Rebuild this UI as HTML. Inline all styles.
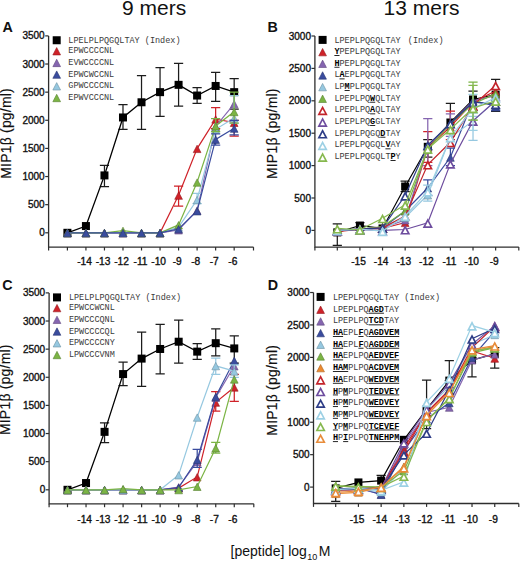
<!DOCTYPE html><html><head><meta charset="utf-8"><style>html,body{margin:0;padding:0;background:#fff;overflow:hidden}svg{display:block}</style></head><body><svg width="520" height="561" viewBox="0 0 520 561">
<rect width="520" height="561" fill="#fff"/>
<text x="122.1" y="15.3" font-size="21" font-family='"Liberation Sans", sans-serif' fill="#111">9 mers</text>
<text x="383.6" y="15.3" font-size="21" font-family='"Liberation Sans", sans-serif' fill="#111">13 mers</text>
<text x="2.4" y="31.7" font-size="14.3" font-weight="bold" font-family='"Liberation Sans", sans-serif' fill="#111">A</text>
<text x="267.6" y="31.5" font-size="14.3" font-weight="bold" font-family='"Liberation Sans", sans-serif' fill="#111">B</text>
<text x="2.2" y="290.0" font-size="14.3" font-weight="bold" font-family='"Liberation Sans", sans-serif' fill="#111">C</text>
<text x="267.8" y="290.0" font-size="14.3" font-weight="bold" font-family='"Liberation Sans", sans-serif' fill="#111">D</text>
<text transform="translate(11.2 178.8) rotate(-90)" font-size="14" letter-spacing="0.2" font-family='"Liberation Sans", sans-serif' fill="#111" stroke="#111" stroke-width="0.15">MIP1&#946; (pg/ml)</text>
<text transform="translate(276.7 179.1) rotate(-90)" font-size="14" letter-spacing="0.2" font-family='"Liberation Sans", sans-serif' fill="#111" stroke="#111" stroke-width="0.15">MIP1&#946; (pg/ml)</text>
<text transform="translate(10.2 435.1) rotate(-90)" font-size="14" letter-spacing="0.2" font-family='"Liberation Sans", sans-serif' fill="#111" stroke="#111" stroke-width="0.15">MIP1&#946; (pg/ml)</text>
<text transform="translate(276.6 435.7) rotate(-90)" font-size="14" letter-spacing="0.2" font-family='"Liberation Sans", sans-serif' fill="#111" stroke="#111" stroke-width="0.15">MIP1&#946; (pg/ml)</text>
<text x="230.6" y="556.3" font-size="14" font-family='"Liberation Sans", sans-serif' fill="#111">[peptide] log</text>
<text x="307.2" y="560" font-size="9" font-family='"Liberation Sans", sans-serif' fill="#111">10</text>
<text x="318.7" y="556.3" font-size="14" font-family='"Liberation Sans", sans-serif' fill="#111">M</text>
<path d="M48.60 35.89V247.10H253.50" fill="none" stroke="#2e2e2e" stroke-width="1.3"/>
<path d="M45.20 232.80H48.60" stroke="#2e2e2e" stroke-width="1.2"/>
<text x="44.70" y="236.40" font-size="10" text-anchor="end" font-family='"Liberation Sans", sans-serif' fill="#111" stroke="#111" stroke-width="0.35">0</text>
<path d="M45.20 204.67H48.60" stroke="#2e2e2e" stroke-width="1.2"/>
<text x="44.70" y="208.27" font-size="10" text-anchor="end" font-family='"Liberation Sans", sans-serif' fill="#111" stroke="#111" stroke-width="0.35">500</text>
<path d="M45.20 176.54H48.60" stroke="#2e2e2e" stroke-width="1.2"/>
<text x="44.70" y="180.14" font-size="10" text-anchor="end" font-family='"Liberation Sans", sans-serif' fill="#111" stroke="#111" stroke-width="0.35">1000</text>
<path d="M45.20 148.41H48.60" stroke="#2e2e2e" stroke-width="1.2"/>
<text x="44.70" y="152.01" font-size="10" text-anchor="end" font-family='"Liberation Sans", sans-serif' fill="#111" stroke="#111" stroke-width="0.35">1500</text>
<path d="M45.20 120.28H48.60" stroke="#2e2e2e" stroke-width="1.2"/>
<text x="44.70" y="123.88" font-size="10" text-anchor="end" font-family='"Liberation Sans", sans-serif' fill="#111" stroke="#111" stroke-width="0.35">2000</text>
<path d="M45.20 92.15H48.60" stroke="#2e2e2e" stroke-width="1.2"/>
<text x="44.70" y="95.75" font-size="10" text-anchor="end" font-family='"Liberation Sans", sans-serif' fill="#111" stroke="#111" stroke-width="0.35">2500</text>
<path d="M45.20 64.02H48.60" stroke="#2e2e2e" stroke-width="1.2"/>
<text x="44.70" y="67.62" font-size="10" text-anchor="end" font-family='"Liberation Sans", sans-serif' fill="#111" stroke="#111" stroke-width="0.35">3000</text>
<path d="M45.20 35.89H48.60" stroke="#2e2e2e" stroke-width="1.2"/>
<text x="44.70" y="39.49" font-size="10" text-anchor="end" font-family='"Liberation Sans", sans-serif' fill="#111" stroke="#111" stroke-width="0.35">3500</text>
<path d="M48.60 247.10V250.50" stroke="#2e2e2e" stroke-width="1.2"/>
<path d="M67.40 247.10V250.50" stroke="#2e2e2e" stroke-width="1.2"/>
<path d="M85.93 247.10V250.50" stroke="#2e2e2e" stroke-width="1.2"/>
<path d="M104.46 247.10V250.50" stroke="#2e2e2e" stroke-width="1.2"/>
<path d="M122.99 247.10V250.50" stroke="#2e2e2e" stroke-width="1.2"/>
<path d="M141.52 247.10V250.50" stroke="#2e2e2e" stroke-width="1.2"/>
<path d="M160.05 247.10V250.50" stroke="#2e2e2e" stroke-width="1.2"/>
<path d="M178.58 247.10V250.50" stroke="#2e2e2e" stroke-width="1.2"/>
<path d="M197.11 247.10V250.50" stroke="#2e2e2e" stroke-width="1.2"/>
<path d="M215.64 247.10V250.50" stroke="#2e2e2e" stroke-width="1.2"/>
<path d="M234.17 247.10V250.50" stroke="#2e2e2e" stroke-width="1.2"/>
<path d="M253.50 247.10V250.50" stroke="#2e2e2e" stroke-width="1.2"/>
<text x="91.90" y="265.00" font-size="10.2" text-anchor="end" font-family='"Liberation Sans", sans-serif' fill="#111" stroke="#111" stroke-width="0.35">-14</text>
<text x="110.43" y="265.00" font-size="10.2" text-anchor="end" font-family='"Liberation Sans", sans-serif' fill="#111" stroke="#111" stroke-width="0.35">-13</text>
<text x="128.96" y="265.00" font-size="10.2" text-anchor="end" font-family='"Liberation Sans", sans-serif' fill="#111" stroke="#111" stroke-width="0.35">-12</text>
<text x="147.49" y="265.00" font-size="10.2" text-anchor="end" font-family='"Liberation Sans", sans-serif' fill="#111" stroke="#111" stroke-width="0.35">-11</text>
<text x="166.02" y="265.00" font-size="10.2" text-anchor="end" font-family='"Liberation Sans", sans-serif' fill="#111" stroke="#111" stroke-width="0.35">-10</text>
<text x="181.72" y="265.00" font-size="10.2" text-anchor="end" font-family='"Liberation Sans", sans-serif' fill="#111" stroke="#111" stroke-width="0.35">-9</text>
<text x="200.25" y="265.00" font-size="10.2" text-anchor="end" font-family='"Liberation Sans", sans-serif' fill="#111" stroke="#111" stroke-width="0.35">-8</text>
<text x="218.78" y="265.00" font-size="10.2" text-anchor="end" font-family='"Liberation Sans", sans-serif' fill="#111" stroke="#111" stroke-width="0.35">-7</text>
<text x="237.31" y="265.00" font-size="10.2" text-anchor="end" font-family='"Liberation Sans", sans-serif' fill="#111" stroke="#111" stroke-width="0.35">-6</text>
<path d="M104.46 165.29V186.67M99.86 165.29H109.06M99.86 186.67H109.06" stroke="#1c1c1c" stroke-width="1.25" fill="none"/>
<path d="M122.99 104.53V129.28M118.39 104.53H127.59M118.39 129.28H127.59" stroke="#1c1c1c" stroke-width="1.25" fill="none"/>
<path d="M141.52 75.61V129.28M136.92 75.61H146.12M136.92 129.28H146.12" stroke="#1c1c1c" stroke-width="1.25" fill="none"/>
<path d="M160.05 67.51V116.34M155.45 67.51H164.65M155.45 116.34H164.65" stroke="#1c1c1c" stroke-width="1.25" fill="none"/>
<path d="M178.58 63.46V106.22M173.98 63.46H183.18M173.98 106.22H183.18" stroke="#1c1c1c" stroke-width="1.25" fill="none"/>
<path d="M197.11 87.65V103.40M192.51 87.65H201.71M192.51 103.40H201.71" stroke="#1c1c1c" stroke-width="1.25" fill="none"/>
<path d="M215.64 72.46V101.43M211.04 72.46H220.24M211.04 101.43H220.24" stroke="#1c1c1c" stroke-width="1.25" fill="none"/>
<path d="M234.17 78.65V109.03M229.57 78.65H238.77M229.57 109.03H238.77" stroke="#1c1c1c" stroke-width="1.25" fill="none"/>
<path d="M67.40 232.80L85.93 226.05L104.46 175.41L122.99 117.47L141.52 102.28L160.05 92.15L178.58 84.84L197.11 95.53L215.64 85.96L234.17 92.15" fill="none" stroke="#000" stroke-width="1.3"/>
<rect x="63.40" y="228.80" width="8" height="8" fill="#000"/>
<rect x="81.93" y="222.05" width="8" height="8" fill="#000"/>
<rect x="100.46" y="171.41" width="8" height="8" fill="#000"/>
<rect x="118.99" y="113.47" width="8" height="8" fill="#000"/>
<rect x="137.52" y="98.28" width="8" height="8" fill="#000"/>
<rect x="156.05" y="88.15" width="8" height="8" fill="#000"/>
<rect x="174.58" y="80.84" width="8" height="8" fill="#000"/>
<rect x="193.11" y="91.53" width="8" height="8" fill="#000"/>
<rect x="211.64" y="81.96" width="8" height="8" fill="#000"/>
<rect x="230.17" y="88.15" width="8" height="8" fill="#000"/>
<path d="M178.58 186.10V206.02M173.98 186.10H183.18M173.98 206.02H183.18" stroke="#cf2229" stroke-width="1.25" fill="none"/>
<path d="M215.64 107.62V128.72M211.04 107.62H220.24M211.04 128.72H220.24" stroke="#cf2229" stroke-width="1.25" fill="none"/>
<path d="M234.17 120.28V136.15M229.57 120.28H238.77M229.57 136.15H238.77" stroke="#cf2229" stroke-width="1.25" fill="none"/>
<path d="M67.40 232.80L85.93 232.80L104.46 232.80L122.99 232.80L141.52 232.80L160.05 232.80L178.58 195.33L197.11 148.58L215.64 119.15L234.17 122.53" fill="none" stroke="#cf2229" stroke-width="1.2"/>
<path d="M67.40 229.40L71.25 236.80L63.55 236.80Z" fill="#cf2229" stroke="#95181d" stroke-width="0.6" stroke-linejoin="miter"/>
<path d="M85.93 229.40L89.78 236.80L82.08 236.80Z" fill="#cf2229" stroke="#95181d" stroke-width="0.6" stroke-linejoin="miter"/>
<path d="M104.46 229.40L108.31 236.80L100.61 236.80Z" fill="#cf2229" stroke="#95181d" stroke-width="0.6" stroke-linejoin="miter"/>
<path d="M122.99 229.40L126.84 236.80L119.14 236.80Z" fill="#cf2229" stroke="#95181d" stroke-width="0.6" stroke-linejoin="miter"/>
<path d="M141.52 229.40L145.37 236.80L137.67 236.80Z" fill="#cf2229" stroke="#95181d" stroke-width="0.6" stroke-linejoin="miter"/>
<path d="M160.05 229.40L163.90 236.80L156.20 236.80Z" fill="#cf2229" stroke="#95181d" stroke-width="0.6" stroke-linejoin="miter"/>
<path d="M178.58 191.93L182.43 199.33L174.73 199.33Z" fill="#cf2229" stroke="#95181d" stroke-width="0.6" stroke-linejoin="miter"/>
<path d="M197.11 145.18L200.96 152.58L193.26 152.58Z" fill="#cf2229" stroke="#95181d" stroke-width="0.6" stroke-linejoin="miter"/>
<path d="M215.64 115.75L219.49 123.15L211.79 123.15Z" fill="#cf2229" stroke="#95181d" stroke-width="0.6" stroke-linejoin="miter"/>
<path d="M234.17 119.13L238.02 126.53L230.32 126.53Z" fill="#cf2229" stroke="#95181d" stroke-width="0.6" stroke-linejoin="miter"/>
<path d="M67.40 232.80L85.93 232.80L104.46 232.80L122.99 232.80L141.52 232.80L160.05 232.80L178.58 229.99L197.11 210.30L215.64 126.47L234.17 103.80" fill="none" stroke="#8565b0" stroke-width="1.2"/>
<path d="M67.40 229.40L71.25 236.80L63.55 236.80Z" fill="#8565b0" stroke="#5f487e" stroke-width="0.6" stroke-linejoin="miter"/>
<path d="M85.93 229.40L89.78 236.80L82.08 236.80Z" fill="#8565b0" stroke="#5f487e" stroke-width="0.6" stroke-linejoin="miter"/>
<path d="M104.46 229.40L108.31 236.80L100.61 236.80Z" fill="#8565b0" stroke="#5f487e" stroke-width="0.6" stroke-linejoin="miter"/>
<path d="M122.99 229.40L126.84 236.80L119.14 236.80Z" fill="#8565b0" stroke="#5f487e" stroke-width="0.6" stroke-linejoin="miter"/>
<path d="M141.52 229.40L145.37 236.80L137.67 236.80Z" fill="#8565b0" stroke="#5f487e" stroke-width="0.6" stroke-linejoin="miter"/>
<path d="M160.05 229.40L163.90 236.80L156.20 236.80Z" fill="#8565b0" stroke="#5f487e" stroke-width="0.6" stroke-linejoin="miter"/>
<path d="M178.58 226.59L182.43 233.99L174.73 233.99Z" fill="#8565b0" stroke="#5f487e" stroke-width="0.6" stroke-linejoin="miter"/>
<path d="M197.11 206.90L200.96 214.30L193.26 214.30Z" fill="#8565b0" stroke="#5f487e" stroke-width="0.6" stroke-linejoin="miter"/>
<path d="M215.64 123.07L219.49 130.47L211.79 130.47Z" fill="#8565b0" stroke="#5f487e" stroke-width="0.6" stroke-linejoin="miter"/>
<path d="M234.17 100.40L238.02 107.80L230.32 107.80Z" fill="#8565b0" stroke="#5f487e" stroke-width="0.6" stroke-linejoin="miter"/>
<path d="M197.11 193.42V203.54M192.51 193.42H201.71M192.51 203.54H201.71" stroke="#96c8e0" stroke-width="1.25" fill="none"/>
<path d="M234.17 95.53V123.09M229.57 95.53H238.77M229.57 123.09H238.77" stroke="#96c8e0" stroke-width="1.25" fill="none"/>
<path d="M67.40 232.80L85.93 232.80L104.46 232.80L122.99 232.80L141.52 232.80L160.05 232.80L178.58 227.17L197.11 199.72L215.64 129.28L234.17 118.03" fill="none" stroke="#96c8e0" stroke-width="1.2"/>
<path d="M67.40 229.40L71.25 236.80L63.55 236.80Z" fill="#96c8e0" stroke="#6c90a1" stroke-width="0.6" stroke-linejoin="miter"/>
<path d="M85.93 229.40L89.78 236.80L82.08 236.80Z" fill="#96c8e0" stroke="#6c90a1" stroke-width="0.6" stroke-linejoin="miter"/>
<path d="M104.46 229.40L108.31 236.80L100.61 236.80Z" fill="#96c8e0" stroke="#6c90a1" stroke-width="0.6" stroke-linejoin="miter"/>
<path d="M122.99 229.40L126.84 236.80L119.14 236.80Z" fill="#96c8e0" stroke="#6c90a1" stroke-width="0.6" stroke-linejoin="miter"/>
<path d="M141.52 229.40L145.37 236.80L137.67 236.80Z" fill="#96c8e0" stroke="#6c90a1" stroke-width="0.6" stroke-linejoin="miter"/>
<path d="M160.05 229.40L163.90 236.80L156.20 236.80Z" fill="#96c8e0" stroke="#6c90a1" stroke-width="0.6" stroke-linejoin="miter"/>
<path d="M178.58 223.77L182.43 231.17L174.73 231.17Z" fill="#96c8e0" stroke="#6c90a1" stroke-width="0.6" stroke-linejoin="miter"/>
<path d="M197.11 196.32L200.96 203.72L193.26 203.72Z" fill="#96c8e0" stroke="#6c90a1" stroke-width="0.6" stroke-linejoin="miter"/>
<path d="M215.64 125.88L219.49 133.28L211.79 133.28Z" fill="#96c8e0" stroke="#6c90a1" stroke-width="0.6" stroke-linejoin="miter"/>
<path d="M234.17 114.63L238.02 122.03L230.32 122.03Z" fill="#96c8e0" stroke="#6c90a1" stroke-width="0.6" stroke-linejoin="miter"/>
<path d="M215.64 118.59V131.53M211.04 118.59H220.24M211.04 131.53H220.24" stroke="#7bb444" stroke-width="1.25" fill="none"/>
<path d="M234.17 92.15V123.09M229.57 92.15H238.77M229.57 123.09H238.77" stroke="#7bb444" stroke-width="1.25" fill="none"/>
<path d="M67.40 232.80L85.93 232.80L104.46 232.80L122.99 230.55L141.52 232.80L160.05 232.80L178.58 224.92L197.11 182.28L215.64 125.91L234.17 111.73" fill="none" stroke="#7bb444" stroke-width="1.2"/>
<path d="M67.40 229.40L71.25 236.80L63.55 236.80Z" fill="#7bb444" stroke="#588130" stroke-width="0.6" stroke-linejoin="miter"/>
<path d="M85.93 229.40L89.78 236.80L82.08 236.80Z" fill="#7bb444" stroke="#588130" stroke-width="0.6" stroke-linejoin="miter"/>
<path d="M104.46 229.40L108.31 236.80L100.61 236.80Z" fill="#7bb444" stroke="#588130" stroke-width="0.6" stroke-linejoin="miter"/>
<path d="M122.99 227.15L126.84 234.55L119.14 234.55Z" fill="#7bb444" stroke="#588130" stroke-width="0.6" stroke-linejoin="miter"/>
<path d="M141.52 229.40L145.37 236.80L137.67 236.80Z" fill="#7bb444" stroke="#588130" stroke-width="0.6" stroke-linejoin="miter"/>
<path d="M160.05 229.40L163.90 236.80L156.20 236.80Z" fill="#7bb444" stroke="#588130" stroke-width="0.6" stroke-linejoin="miter"/>
<path d="M178.58 221.52L182.43 228.92L174.73 228.92Z" fill="#7bb444" stroke="#588130" stroke-width="0.6" stroke-linejoin="miter"/>
<path d="M197.11 178.88L200.96 186.28L193.26 186.28Z" fill="#7bb444" stroke="#588130" stroke-width="0.6" stroke-linejoin="miter"/>
<path d="M215.64 122.51L219.49 129.91L211.79 129.91Z" fill="#7bb444" stroke="#588130" stroke-width="0.6" stroke-linejoin="miter"/>
<path d="M234.17 108.33L238.02 115.73L230.32 115.73Z" fill="#7bb444" stroke="#588130" stroke-width="0.6" stroke-linejoin="miter"/>
<path d="M215.64 133.78V145.03M211.04 133.78H220.24M211.04 145.03H220.24" stroke="#3a4c9e" stroke-width="1.25" fill="none"/>
<path d="M234.17 120.28V134.91M229.57 120.28H238.77M229.57 134.91H238.77" stroke="#3a4c9e" stroke-width="1.25" fill="none"/>
<path d="M67.40 232.80L85.93 232.80L104.46 232.80L122.99 232.80L141.52 232.80L160.05 232.80L178.58 228.86L197.11 210.97L215.64 139.41L234.17 128.33" fill="none" stroke="#3a4c9e" stroke-width="1.2"/>
<path d="M67.40 229.40L71.25 236.80L63.55 236.80Z" fill="#3a4c9e" stroke="#293671" stroke-width="0.6" stroke-linejoin="miter"/>
<path d="M85.93 229.40L89.78 236.80L82.08 236.80Z" fill="#3a4c9e" stroke="#293671" stroke-width="0.6" stroke-linejoin="miter"/>
<path d="M104.46 229.40L108.31 236.80L100.61 236.80Z" fill="#3a4c9e" stroke="#293671" stroke-width="0.6" stroke-linejoin="miter"/>
<path d="M122.99 229.40L126.84 236.80L119.14 236.80Z" fill="#3a4c9e" stroke="#293671" stroke-width="0.6" stroke-linejoin="miter"/>
<path d="M141.52 229.40L145.37 236.80L137.67 236.80Z" fill="#3a4c9e" stroke="#293671" stroke-width="0.6" stroke-linejoin="miter"/>
<path d="M160.05 229.40L163.90 236.80L156.20 236.80Z" fill="#3a4c9e" stroke="#293671" stroke-width="0.6" stroke-linejoin="miter"/>
<path d="M178.58 225.46L182.43 232.86L174.73 232.86Z" fill="#3a4c9e" stroke="#293671" stroke-width="0.6" stroke-linejoin="miter"/>
<path d="M197.11 207.57L200.96 214.97L193.26 214.97Z" fill="#3a4c9e" stroke="#293671" stroke-width="0.6" stroke-linejoin="miter"/>
<path d="M215.64 136.01L219.49 143.41L211.79 143.41Z" fill="#3a4c9e" stroke="#293671" stroke-width="0.6" stroke-linejoin="miter"/>
<path d="M234.17 124.93L238.02 132.33L230.32 132.33Z" fill="#3a4c9e" stroke="#293671" stroke-width="0.6" stroke-linejoin="miter"/>
<rect x="52.70" y="36.25" width="8" height="8" fill="#000"/>
<text x="68.30" y="42.95" font-size="8.5" font-family='"Liberation Mono", monospace' fill="#3a3a3a" xml:space="preserve">LPELPLPQGQLTAY (Index)</text>
<path d="M56.70 47.55L60.55 54.95L52.85 54.95Z" fill="#cf2229" stroke="#95181d" stroke-width="0.6" stroke-linejoin="miter"/>
<text x="68.30" y="53.25" font-size="8.5" font-family='"Liberation Mono", monospace' fill="#3a3a3a" xml:space="preserve">EPWCCCCNL</text>
<path d="M56.70 59.24L60.55 66.64L52.85 66.64Z" fill="#8565b0" stroke="#5f487e" stroke-width="0.6" stroke-linejoin="miter"/>
<text x="68.30" y="64.94" font-size="8.5" font-family='"Liberation Mono", monospace' fill="#3a3a3a" xml:space="preserve">EVWCCCCNL</text>
<path d="M56.70 70.93L60.55 78.33L52.85 78.33Z" fill="#3a4c9e" stroke="#293671" stroke-width="0.6" stroke-linejoin="miter"/>
<text x="68.30" y="76.63" font-size="8.5" font-family='"Liberation Mono", monospace' fill="#3a3a3a" xml:space="preserve">EPWCWCCNL</text>
<path d="M56.70 82.62L60.55 90.02L52.85 90.02Z" fill="#96c8e0" stroke="#6c90a1" stroke-width="0.6" stroke-linejoin="miter"/>
<text x="68.30" y="88.32" font-size="8.5" font-family='"Liberation Mono", monospace' fill="#3a3a3a" xml:space="preserve">GPWCCCCNL</text>
<path d="M56.70 94.31L60.55 101.71L52.85 101.71Z" fill="#7bb444" stroke="#588130" stroke-width="0.6" stroke-linejoin="miter"/>
<text x="68.30" y="100.01" font-size="8.5" font-family='"Liberation Mono", monospace' fill="#3a3a3a" xml:space="preserve">EPWVCCCNL</text>
<path d="M314.90 36.00V247.10H518.80" fill="none" stroke="#2e2e2e" stroke-width="1.3"/>
<path d="M311.50 230.40H314.90" stroke="#2e2e2e" stroke-width="1.2"/>
<text x="311.00" y="234.00" font-size="10" text-anchor="end" font-family='"Liberation Sans", sans-serif' fill="#111" stroke="#111" stroke-width="0.35">0</text>
<path d="M311.50 198.00H314.90" stroke="#2e2e2e" stroke-width="1.2"/>
<text x="311.00" y="201.60" font-size="10" text-anchor="end" font-family='"Liberation Sans", sans-serif' fill="#111" stroke="#111" stroke-width="0.35">500</text>
<path d="M311.50 165.60H314.90" stroke="#2e2e2e" stroke-width="1.2"/>
<text x="311.00" y="169.20" font-size="10" text-anchor="end" font-family='"Liberation Sans", sans-serif' fill="#111" stroke="#111" stroke-width="0.35">1000</text>
<path d="M311.50 133.20H314.90" stroke="#2e2e2e" stroke-width="1.2"/>
<text x="311.00" y="136.80" font-size="10" text-anchor="end" font-family='"Liberation Sans", sans-serif' fill="#111" stroke="#111" stroke-width="0.35">1500</text>
<path d="M311.50 100.80H314.90" stroke="#2e2e2e" stroke-width="1.2"/>
<text x="311.00" y="104.40" font-size="10" text-anchor="end" font-family='"Liberation Sans", sans-serif' fill="#111" stroke="#111" stroke-width="0.35">2000</text>
<path d="M311.50 68.40H314.90" stroke="#2e2e2e" stroke-width="1.2"/>
<text x="311.00" y="72.00" font-size="10" text-anchor="end" font-family='"Liberation Sans", sans-serif' fill="#111" stroke="#111" stroke-width="0.35">2500</text>
<path d="M311.50 36.00H314.90" stroke="#2e2e2e" stroke-width="1.2"/>
<text x="311.00" y="39.60" font-size="10" text-anchor="end" font-family='"Liberation Sans", sans-serif' fill="#111" stroke="#111" stroke-width="0.35">3000</text>
<path d="M314.90 247.10V250.50" stroke="#2e2e2e" stroke-width="1.2"/>
<path d="M337.30 247.10V250.50" stroke="#2e2e2e" stroke-width="1.2"/>
<path d="M359.92 247.10V250.50" stroke="#2e2e2e" stroke-width="1.2"/>
<path d="M382.54 247.10V250.50" stroke="#2e2e2e" stroke-width="1.2"/>
<path d="M405.16 247.10V250.50" stroke="#2e2e2e" stroke-width="1.2"/>
<path d="M427.78 247.10V250.50" stroke="#2e2e2e" stroke-width="1.2"/>
<path d="M450.40 247.10V250.50" stroke="#2e2e2e" stroke-width="1.2"/>
<path d="M473.02 247.10V250.50" stroke="#2e2e2e" stroke-width="1.2"/>
<path d="M495.64 247.10V250.50" stroke="#2e2e2e" stroke-width="1.2"/>
<path d="M518.80 247.10V250.50" stroke="#2e2e2e" stroke-width="1.2"/>
<text x="365.89" y="265.00" font-size="10.2" text-anchor="end" font-family='"Liberation Sans", sans-serif' fill="#111" stroke="#111" stroke-width="0.35">-15</text>
<text x="388.51" y="265.00" font-size="10.2" text-anchor="end" font-family='"Liberation Sans", sans-serif' fill="#111" stroke="#111" stroke-width="0.35">-14</text>
<text x="411.13" y="265.00" font-size="10.2" text-anchor="end" font-family='"Liberation Sans", sans-serif' fill="#111" stroke="#111" stroke-width="0.35">-13</text>
<text x="433.75" y="265.00" font-size="10.2" text-anchor="end" font-family='"Liberation Sans", sans-serif' fill="#111" stroke="#111" stroke-width="0.35">-12</text>
<text x="456.37" y="265.00" font-size="10.2" text-anchor="end" font-family='"Liberation Sans", sans-serif' fill="#111" stroke="#111" stroke-width="0.35">-11</text>
<text x="478.99" y="265.00" font-size="10.2" text-anchor="end" font-family='"Liberation Sans", sans-serif' fill="#111" stroke="#111" stroke-width="0.35">-10</text>
<text x="498.78" y="265.00" font-size="10.2" text-anchor="end" font-family='"Liberation Sans", sans-serif' fill="#111" stroke="#111" stroke-width="0.35">-9</text>
<path d="M337.30 223.92V245.30M332.70 223.92H341.90M332.70 245.30H341.90" stroke="#1c1c1c" stroke-width="1.25" fill="none"/>
<path d="M359.92 222.62V230.40M355.32 222.62H364.52M355.32 230.40H364.52" stroke="#1c1c1c" stroke-width="1.25" fill="none"/>
<path d="M405.16 181.15V191.52M400.56 181.15H409.76M400.56 191.52H409.76" stroke="#1c1c1c" stroke-width="1.25" fill="none"/>
<path d="M427.78 139.68V157.18M423.18 139.68H432.38M423.18 157.18H432.38" stroke="#1c1c1c" stroke-width="1.25" fill="none"/>
<path d="M450.40 103.39V133.20M445.80 103.39H455.00M445.80 133.20H455.00" stroke="#1c1c1c" stroke-width="1.25" fill="none"/>
<path d="M473.02 91.08V110.52M468.42 91.08H477.62M468.42 110.52H477.62" stroke="#1c1c1c" stroke-width="1.25" fill="none"/>
<path d="M495.64 79.29V111.30M491.04 79.29H500.24M491.04 111.30H500.24" stroke="#1c1c1c" stroke-width="1.25" fill="none"/>
<path d="M337.30 232.34L359.92 225.54L382.54 228.46L405.16 186.53L427.78 146.81L450.40 122.51L473.02 99.50L495.64 94.64" fill="none" stroke="#000" stroke-width="1.2"/>
<rect x="333.30" y="228.34" width="8" height="8" fill="#000"/>
<rect x="355.92" y="221.54" width="8" height="8" fill="#000"/>
<rect x="378.54" y="224.46" width="8" height="8" fill="#000"/>
<rect x="401.16" y="182.53" width="8" height="8" fill="#000"/>
<rect x="423.78" y="142.81" width="8" height="8" fill="#000"/>
<rect x="446.40" y="118.51" width="8" height="8" fill="#000"/>
<rect x="469.02" y="95.50" width="8" height="8" fill="#000"/>
<rect x="491.64" y="90.64" width="8" height="8" fill="#000"/>
<path d="M427.78 131.58V162.36M423.18 131.58H432.38M423.18 162.36H432.38" stroke="#cf2229" stroke-width="1.25" fill="none"/>
<path d="M450.40 111.17V139.68M445.80 111.17H455.00M445.80 139.68H455.00" stroke="#cf2229" stroke-width="1.25" fill="none"/>
<path d="M337.30 231.70L359.92 229.10L382.54 228.46L405.16 222.62L427.78 147.46L450.40 126.72L473.02 102.10L495.64 91.08" fill="none" stroke="#cf2229" stroke-width="1.2"/>
<path d="M337.30 228.30L341.15 235.70L333.45 235.70Z" fill="#cf2229" stroke="#95181d" stroke-width="0.6" stroke-linejoin="miter"/>
<path d="M359.92 225.70L363.77 233.10L356.07 233.10Z" fill="#cf2229" stroke="#95181d" stroke-width="0.6" stroke-linejoin="miter"/>
<path d="M382.54 225.06L386.39 232.46L378.69 232.46Z" fill="#cf2229" stroke="#95181d" stroke-width="0.6" stroke-linejoin="miter"/>
<path d="M405.16 219.22L409.01 226.62L401.31 226.62Z" fill="#cf2229" stroke="#95181d" stroke-width="0.6" stroke-linejoin="miter"/>
<path d="M427.78 144.06L431.63 151.46L423.93 151.46Z" fill="#cf2229" stroke="#95181d" stroke-width="0.6" stroke-linejoin="miter"/>
<path d="M450.40 123.32L454.25 130.72L446.55 130.72Z" fill="#cf2229" stroke="#95181d" stroke-width="0.6" stroke-linejoin="miter"/>
<path d="M473.02 98.70L476.87 106.10L469.17 106.10Z" fill="#cf2229" stroke="#95181d" stroke-width="0.6" stroke-linejoin="miter"/>
<path d="M495.64 87.68L499.49 95.08L491.79 95.08Z" fill="#cf2229" stroke="#95181d" stroke-width="0.6" stroke-linejoin="miter"/>
<path d="M427.78 118.62V165.60M423.18 118.62H432.38M423.18 165.60H432.38" stroke="#8565b0" stroke-width="1.25" fill="none"/>
<path d="M450.40 113.76V136.44M445.80 113.76H455.00M445.80 136.44H455.00" stroke="#8565b0" stroke-width="1.25" fill="none"/>
<path d="M337.30 230.40L359.92 229.10L382.54 227.81L405.16 220.03L427.78 146.16L450.40 123.48L473.02 100.80L495.64 95.62" fill="none" stroke="#8565b0" stroke-width="1.2"/>
<path d="M337.30 227.00L341.15 234.40L333.45 234.40Z" fill="#8565b0" stroke="#5f487e" stroke-width="0.6" stroke-linejoin="miter"/>
<path d="M359.92 225.70L363.77 233.10L356.07 233.10Z" fill="#8565b0" stroke="#5f487e" stroke-width="0.6" stroke-linejoin="miter"/>
<path d="M382.54 224.41L386.39 231.81L378.69 231.81Z" fill="#8565b0" stroke="#5f487e" stroke-width="0.6" stroke-linejoin="miter"/>
<path d="M405.16 216.63L409.01 224.03L401.31 224.03Z" fill="#8565b0" stroke="#5f487e" stroke-width="0.6" stroke-linejoin="miter"/>
<path d="M427.78 142.76L431.63 150.16L423.93 150.16Z" fill="#8565b0" stroke="#5f487e" stroke-width="0.6" stroke-linejoin="miter"/>
<path d="M450.40 120.08L454.25 127.48L446.55 127.48Z" fill="#8565b0" stroke="#5f487e" stroke-width="0.6" stroke-linejoin="miter"/>
<path d="M473.02 97.40L476.87 104.80L469.17 104.80Z" fill="#8565b0" stroke="#5f487e" stroke-width="0.6" stroke-linejoin="miter"/>
<path d="M495.64 92.22L499.49 99.62L491.79 99.62Z" fill="#8565b0" stroke="#5f487e" stroke-width="0.6" stroke-linejoin="miter"/>
<path d="M427.78 179.86V195.41M423.18 179.86H432.38M423.18 195.41H432.38" stroke="#3a4c9e" stroke-width="1.25" fill="none"/>
<path d="M450.40 148.10V165.60M445.80 148.10H455.00M445.80 165.60H455.00" stroke="#3a4c9e" stroke-width="1.25" fill="none"/>
<path d="M495.64 100.80V110.52M491.04 100.80H500.24M491.04 110.52H500.24" stroke="#3a4c9e" stroke-width="1.25" fill="none"/>
<path d="M337.30 230.40L359.92 229.10L382.54 227.81L405.16 210.96L427.78 188.02L450.40 157.31L473.02 100.80L495.64 105.98" fill="none" stroke="#3a4c9e" stroke-width="1.2"/>
<path d="M337.30 227.00L341.15 234.40L333.45 234.40Z" fill="#3a4c9e" stroke="#293671" stroke-width="0.6" stroke-linejoin="miter"/>
<path d="M359.92 225.70L363.77 233.10L356.07 233.10Z" fill="#3a4c9e" stroke="#293671" stroke-width="0.6" stroke-linejoin="miter"/>
<path d="M382.54 224.41L386.39 231.81L378.69 231.81Z" fill="#3a4c9e" stroke="#293671" stroke-width="0.6" stroke-linejoin="miter"/>
<path d="M405.16 207.56L409.01 214.96L401.31 214.96Z" fill="#3a4c9e" stroke="#293671" stroke-width="0.6" stroke-linejoin="miter"/>
<path d="M427.78 184.62L431.63 192.02L423.93 192.02Z" fill="#3a4c9e" stroke="#293671" stroke-width="0.6" stroke-linejoin="miter"/>
<path d="M450.40 153.91L454.25 161.31L446.55 161.31Z" fill="#3a4c9e" stroke="#293671" stroke-width="0.6" stroke-linejoin="miter"/>
<path d="M473.02 97.40L476.87 104.80L469.17 104.80Z" fill="#3a4c9e" stroke="#293671" stroke-width="0.6" stroke-linejoin="miter"/>
<path d="M495.64 102.58L499.49 109.98L491.79 109.98Z" fill="#3a4c9e" stroke="#293671" stroke-width="0.6" stroke-linejoin="miter"/>
<path d="M427.78 185.04V201.24M423.18 185.04H432.38M423.18 201.24H432.38" stroke="#96c8e0" stroke-width="1.25" fill="none"/>
<path d="M473.02 116.35V140.33M468.42 116.35H477.62M468.42 140.33H477.62" stroke="#96c8e0" stroke-width="1.25" fill="none"/>
<path d="M337.30 230.40L359.92 229.10L382.54 227.16L405.16 217.44L427.78 195.02L450.40 137.41L473.02 120.89L495.64 100.80" fill="none" stroke="#96c8e0" stroke-width="1.2"/>
<path d="M337.30 227.00L341.15 234.40L333.45 234.40Z" fill="#96c8e0" stroke="#6c90a1" stroke-width="0.6" stroke-linejoin="miter"/>
<path d="M359.92 225.70L363.77 233.10L356.07 233.10Z" fill="#96c8e0" stroke="#6c90a1" stroke-width="0.6" stroke-linejoin="miter"/>
<path d="M382.54 223.76L386.39 231.16L378.69 231.16Z" fill="#96c8e0" stroke="#6c90a1" stroke-width="0.6" stroke-linejoin="miter"/>
<path d="M405.16 214.04L409.01 221.44L401.31 221.44Z" fill="#96c8e0" stroke="#6c90a1" stroke-width="0.6" stroke-linejoin="miter"/>
<path d="M427.78 191.62L431.63 199.02L423.93 199.02Z" fill="#96c8e0" stroke="#6c90a1" stroke-width="0.6" stroke-linejoin="miter"/>
<path d="M450.40 134.01L454.25 141.41L446.55 141.41Z" fill="#96c8e0" stroke="#6c90a1" stroke-width="0.6" stroke-linejoin="miter"/>
<path d="M473.02 117.49L476.87 124.89L469.17 124.89Z" fill="#96c8e0" stroke="#6c90a1" stroke-width="0.6" stroke-linejoin="miter"/>
<path d="M495.64 97.40L499.49 104.80L491.79 104.80Z" fill="#96c8e0" stroke="#6c90a1" stroke-width="0.6" stroke-linejoin="miter"/>
<path d="M473.02 82.01V120.24M468.42 82.01H477.62M468.42 120.24H477.62" stroke="#7bb444" stroke-width="1.25" fill="none"/>
<path d="M337.30 230.40L359.92 229.43L382.54 226.51L405.16 210.96L427.78 149.40L450.40 123.48L473.02 104.04L495.64 93.67" fill="none" stroke="#7bb444" stroke-width="1.2"/>
<path d="M337.30 227.00L341.15 234.40L333.45 234.40Z" fill="#7bb444" stroke="#588130" stroke-width="0.6" stroke-linejoin="miter"/>
<path d="M359.92 226.03L363.77 233.43L356.07 233.43Z" fill="#7bb444" stroke="#588130" stroke-width="0.6" stroke-linejoin="miter"/>
<path d="M382.54 223.11L386.39 230.51L378.69 230.51Z" fill="#7bb444" stroke="#588130" stroke-width="0.6" stroke-linejoin="miter"/>
<path d="M405.16 207.56L409.01 214.96L401.31 214.96Z" fill="#7bb444" stroke="#588130" stroke-width="0.6" stroke-linejoin="miter"/>
<path d="M427.78 146.00L431.63 153.40L423.93 153.40Z" fill="#7bb444" stroke="#588130" stroke-width="0.6" stroke-linejoin="miter"/>
<path d="M450.40 120.08L454.25 127.48L446.55 127.48Z" fill="#7bb444" stroke="#588130" stroke-width="0.6" stroke-linejoin="miter"/>
<path d="M473.02 100.64L476.87 108.04L469.17 108.04Z" fill="#7bb444" stroke="#588130" stroke-width="0.6" stroke-linejoin="miter"/>
<path d="M495.64 90.27L499.49 97.67L491.79 97.67Z" fill="#7bb444" stroke="#588130" stroke-width="0.6" stroke-linejoin="miter"/>
<path d="M337.30 230.40L359.92 229.10L382.54 227.81L405.16 215.95L427.78 164.50L450.40 142.27L473.02 105.34L495.64 85.25" fill="none" stroke="#c3242b" stroke-width="1.2"/>
<path d="M337.30 225.90L342.40 235.50L332.20 235.50Z" fill="#c3242b"/><path d="M337.30 229.42L339.66 233.85L334.94 233.85Z" fill="#fff"/>
<path d="M359.92 224.60L365.02 234.20L354.82 234.20Z" fill="#c3242b"/><path d="M359.92 228.12L362.28 232.55L357.56 232.55Z" fill="#fff"/>
<path d="M382.54 223.31L387.64 232.91L377.44 232.91Z" fill="#c3242b"/><path d="M382.54 226.82L384.90 231.26L380.18 231.26Z" fill="#fff"/>
<path d="M405.16 211.45L410.26 221.05L400.06 221.05Z" fill="#c3242b"/><path d="M405.16 214.97L407.52 219.40L402.80 219.40Z" fill="#fff"/>
<path d="M427.78 160.00L432.88 169.60L422.68 169.60Z" fill="#c3242b"/><path d="M427.78 163.52L430.14 167.95L425.42 167.95Z" fill="#fff"/>
<path d="M450.40 137.77L455.50 147.37L445.30 147.37Z" fill="#c3242b"/><path d="M450.40 141.29L452.76 145.72L448.04 145.72Z" fill="#fff"/>
<path d="M473.02 100.84L478.12 110.44L467.92 110.44Z" fill="#c3242b"/><path d="M473.02 104.35L475.38 108.79L470.66 108.79Z" fill="#fff"/>
<path d="M495.64 80.75L500.74 90.35L490.54 90.35Z" fill="#c3242b"/><path d="M495.64 84.26L498.00 88.70L493.28 88.70Z" fill="#fff"/>
<path d="M337.30 230.40L359.92 229.75L382.54 230.40L405.16 229.49L427.78 222.82L450.40 163.66L473.02 120.89L495.64 100.80" fill="none" stroke="#6d4c9e" stroke-width="1.2"/>
<path d="M337.30 225.90L342.40 235.50L332.20 235.50Z" fill="#6d4c9e"/><path d="M337.30 229.42L339.66 233.85L334.94 233.85Z" fill="#fff"/>
<path d="M359.92 225.25L365.02 234.85L354.82 234.85Z" fill="#6d4c9e"/><path d="M359.92 228.77L362.28 233.20L357.56 233.20Z" fill="#fff"/>
<path d="M382.54 225.90L387.64 235.50L377.44 235.50Z" fill="#6d4c9e"/><path d="M382.54 229.42L384.90 233.85L380.18 233.85Z" fill="#fff"/>
<path d="M405.16 224.99L410.26 234.59L400.06 234.59Z" fill="#6d4c9e"/><path d="M405.16 228.51L407.52 232.94L402.80 232.94Z" fill="#fff"/>
<path d="M427.78 218.32L432.88 227.92L422.68 227.92Z" fill="#6d4c9e"/><path d="M427.78 221.84L430.14 226.27L425.42 226.27Z" fill="#fff"/>
<path d="M450.40 159.16L455.50 168.76L445.30 168.76Z" fill="#6d4c9e"/><path d="M450.40 162.67L452.76 167.11L448.04 167.11Z" fill="#fff"/>
<path d="M473.02 116.39L478.12 125.99L467.92 125.99Z" fill="#6d4c9e"/><path d="M473.02 119.90L475.38 124.34L470.66 124.34Z" fill="#fff"/>
<path d="M495.64 96.30L500.74 105.90L490.54 105.90Z" fill="#6d4c9e"/><path d="M495.64 99.82L498.00 104.25L493.28 104.25Z" fill="#fff"/>
<path d="M337.30 230.40L359.92 229.10L382.54 227.81L405.16 195.54L427.78 145.19L450.40 123.48L473.02 102.10L495.64 104.04" fill="none" stroke="#2d3c86" stroke-width="1.2"/>
<path d="M337.30 225.90L342.40 235.50L332.20 235.50Z" fill="#2d3c86"/><path d="M337.30 229.42L339.66 233.85L334.94 233.85Z" fill="#fff"/>
<path d="M359.92 224.60L365.02 234.20L354.82 234.20Z" fill="#2d3c86"/><path d="M359.92 228.12L362.28 232.55L357.56 232.55Z" fill="#fff"/>
<path d="M382.54 223.31L387.64 232.91L377.44 232.91Z" fill="#2d3c86"/><path d="M382.54 226.82L384.90 231.26L380.18 231.26Z" fill="#fff"/>
<path d="M405.16 191.04L410.26 200.64L400.06 200.64Z" fill="#2d3c86"/><path d="M405.16 194.55L407.52 198.99L402.80 198.99Z" fill="#fff"/>
<path d="M427.78 140.69L432.88 150.29L422.68 150.29Z" fill="#2d3c86"/><path d="M427.78 144.20L430.14 148.64L425.42 148.64Z" fill="#fff"/>
<path d="M450.40 118.98L455.50 128.58L445.30 128.58Z" fill="#2d3c86"/><path d="M450.40 122.50L452.76 126.93L448.04 126.93Z" fill="#fff"/>
<path d="M473.02 97.60L478.12 107.20L467.92 107.20Z" fill="#2d3c86"/><path d="M473.02 101.11L475.38 105.55L470.66 105.55Z" fill="#fff"/>
<path d="M495.64 99.54L500.74 109.14L490.54 109.14Z" fill="#2d3c86"/><path d="M495.64 103.06L498.00 107.49L493.28 107.49Z" fill="#fff"/>
<path d="M473.02 94.32V130.28M468.42 94.32H477.62M468.42 130.28H477.62" stroke="#9cd0e4" stroke-width="1.25" fill="none"/>
<path d="M337.30 230.40L359.92 229.10L382.54 231.05L405.16 215.95L427.78 191.52L450.40 137.41L473.02 108.58L495.64 97.56" fill="none" stroke="#9cd0e4" stroke-width="1.2"/>
<path d="M337.30 225.90L342.40 235.50L332.20 235.50Z" fill="#9cd0e4"/><path d="M337.30 229.42L339.66 233.85L334.94 233.85Z" fill="#fff"/>
<path d="M359.92 224.60L365.02 234.20L354.82 234.20Z" fill="#9cd0e4"/><path d="M359.92 228.12L362.28 232.55L357.56 232.55Z" fill="#fff"/>
<path d="M382.54 226.55L387.64 236.15L377.44 236.15Z" fill="#9cd0e4"/><path d="M382.54 230.06L384.90 234.50L380.18 234.50Z" fill="#fff"/>
<path d="M405.16 211.45L410.26 221.05L400.06 221.05Z" fill="#9cd0e4"/><path d="M405.16 214.97L407.52 219.40L402.80 219.40Z" fill="#fff"/>
<path d="M427.78 187.02L432.88 196.62L422.68 196.62Z" fill="#9cd0e4"/><path d="M427.78 190.54L430.14 194.97L425.42 194.97Z" fill="#fff"/>
<path d="M450.40 132.91L455.50 142.51L445.30 142.51Z" fill="#9cd0e4"/><path d="M450.40 136.43L452.76 140.86L448.04 140.86Z" fill="#fff"/>
<path d="M473.02 104.08L478.12 113.68L467.92 113.68Z" fill="#9cd0e4"/><path d="M473.02 107.59L475.38 112.03L470.66 112.03Z" fill="#fff"/>
<path d="M495.64 93.06L500.74 102.66L490.54 102.66Z" fill="#9cd0e4"/><path d="M495.64 96.58L498.00 101.01L493.28 101.01Z" fill="#fff"/>
<path d="M473.02 85.25V120.24M468.42 85.25H477.62M468.42 120.24H477.62" stroke="#86b84e" stroke-width="1.25" fill="none"/>
<path d="M337.30 228.46L359.92 229.75L382.54 218.22L405.16 204.80L427.78 148.75L450.40 129.31L473.02 108.12L495.64 100.80" fill="none" stroke="#86b84e" stroke-width="1.2"/>
<path d="M337.30 223.96L342.40 233.56L332.20 233.56Z" fill="#86b84e"/><path d="M337.30 227.47L339.66 231.91L334.94 231.91Z" fill="#fff"/>
<path d="M359.92 225.25L365.02 234.85L354.82 234.85Z" fill="#86b84e"/><path d="M359.92 228.77L362.28 233.20L357.56 233.20Z" fill="#fff"/>
<path d="M382.54 213.72L387.64 223.32L377.44 223.32Z" fill="#86b84e"/><path d="M382.54 217.23L384.90 221.67L380.18 221.67Z" fill="#fff"/>
<path d="M405.16 200.30L410.26 209.90L400.06 209.90Z" fill="#86b84e"/><path d="M405.16 203.82L407.52 208.25L402.80 208.25Z" fill="#fff"/>
<path d="M427.78 144.25L432.88 153.85L422.68 153.85Z" fill="#86b84e"/><path d="M427.78 147.77L430.14 152.20L425.42 152.20Z" fill="#fff"/>
<path d="M450.40 124.81L455.50 134.41L445.30 134.41Z" fill="#86b84e"/><path d="M450.40 128.33L452.76 132.76L448.04 132.76Z" fill="#fff"/>
<path d="M473.02 103.62L478.12 113.22L467.92 113.22Z" fill="#86b84e"/><path d="M473.02 107.14L475.38 111.57L470.66 111.57Z" fill="#fff"/>
<path d="M495.64 96.30L500.74 105.90L490.54 105.90Z" fill="#86b84e"/><path d="M495.64 99.82L498.00 104.25L493.28 104.25Z" fill="#fff"/>
<rect x="318.60" y="35.90" width="8" height="8" fill="#000"/>
<text x="334.40" y="42.60" font-size="8.5" font-family='"Liberation Mono", monospace' fill="#3a3a3a" xml:space="preserve">LPEPLPQGQLTAY <tspan dx="2">(Index)</tspan></text>
<path d="M322.60 48.45L326.45 55.85L318.75 55.85Z" fill="#cf2229" stroke="#95181d" stroke-width="0.6" stroke-linejoin="miter"/>
<text x="334.40" y="54.15" font-size="8.5" font-family='"Liberation Mono", monospace' fill="#3a3a3a" xml:space="preserve"><tspan font-weight="bold" fill="#000" text-decoration="underline">Y</tspan>PEPLPQGQLTAY</text>
<path d="M322.60 60.11L326.45 67.51L318.75 67.51Z" fill="#8565b0" stroke="#5f487e" stroke-width="0.6" stroke-linejoin="miter"/>
<text x="334.40" y="65.81" font-size="8.5" font-family='"Liberation Mono", monospace' fill="#3a3a3a" xml:space="preserve"><tspan font-weight="bold" fill="#000" text-decoration="underline">H</tspan>PEPLPQGQLTAY</text>
<path d="M322.60 71.77L326.45 79.17L318.75 79.17Z" fill="#3a4c9e" stroke="#293671" stroke-width="0.6" stroke-linejoin="miter"/>
<text x="334.40" y="77.47" font-size="8.5" font-family='"Liberation Mono", monospace' fill="#3a3a3a" xml:space="preserve">L<tspan font-weight="bold" fill="#000" text-decoration="underline">A</tspan>EPLPQGQLTAY</text>
<path d="M322.60 83.43L326.45 90.83L318.75 90.83Z" fill="#96c8e0" stroke="#6c90a1" stroke-width="0.6" stroke-linejoin="miter"/>
<text x="334.40" y="89.13" font-size="8.5" font-family='"Liberation Mono", monospace' fill="#3a3a3a" xml:space="preserve">LP<tspan font-weight="bold" fill="#000" text-decoration="underline">M</tspan>PLPQGQLTAY</text>
<path d="M322.60 95.09L326.45 102.49L318.75 102.49Z" fill="#7bb444" stroke="#588130" stroke-width="0.6" stroke-linejoin="miter"/>
<text x="334.40" y="100.79" font-size="8.5" font-family='"Liberation Mono", monospace' fill="#3a3a3a" xml:space="preserve">LPEPLPQ<tspan font-weight="bold" fill="#000" text-decoration="underline">W</tspan>QLTAY</text>
<path d="M322.60 105.65L327.70 115.25L317.50 115.25Z" fill="#c3242b"/><path d="M322.60 109.17L324.96 113.60L320.24 113.60Z" fill="#fff"/>
<text x="334.40" y="112.45" font-size="8.5" font-family='"Liberation Mono", monospace' fill="#3a3a3a" xml:space="preserve">LPEPLPQ<tspan font-weight="bold" fill="#000" text-decoration="underline">A</tspan>QLTAY</text>
<path d="M322.60 117.31L327.70 126.91L317.50 126.91Z" fill="#6d4c9e"/><path d="M322.60 120.83L324.96 125.26L320.24 125.26Z" fill="#fff"/>
<text x="334.40" y="124.11" font-size="8.5" font-family='"Liberation Mono", monospace' fill="#3a3a3a" xml:space="preserve">LPEPLPQ<tspan font-weight="bold" fill="#000" text-decoration="underline">G</tspan>GLTAY</text>
<path d="M322.60 128.97L327.70 138.57L317.50 138.57Z" fill="#2d3c86"/><path d="M322.60 132.49L324.96 136.92L320.24 136.92Z" fill="#fff"/>
<text x="334.40" y="135.77" font-size="8.5" font-family='"Liberation Mono", monospace' fill="#3a3a3a" xml:space="preserve">LPEPLPQGQ<tspan font-weight="bold" fill="#000" text-decoration="underline">D</tspan>TAY</text>
<path d="M322.60 140.63L327.70 150.23L317.50 150.23Z" fill="#9cd0e4"/><path d="M322.60 144.15L324.96 148.58L320.24 148.58Z" fill="#fff"/>
<text x="334.40" y="147.43" font-size="8.5" font-family='"Liberation Mono", monospace' fill="#3a3a3a" xml:space="preserve">LPEPLPQGQL<tspan font-weight="bold" fill="#000" text-decoration="underline">V</tspan>AY</text>
<path d="M322.60 152.29L327.70 161.89L317.50 161.89Z" fill="#86b84e"/><path d="M322.60 155.81L324.96 160.24L320.24 160.24Z" fill="#fff"/>
<text x="334.40" y="159.09" font-size="8.5" font-family='"Liberation Mono", monospace' fill="#3a3a3a" xml:space="preserve">LPEPLPQGQLT<tspan font-weight="bold" fill="#000" text-decoration="underline">P</tspan>Y</text>
<path d="M49.10 292.89V503.80H253.80" fill="none" stroke="#2e2e2e" stroke-width="1.3"/>
<path d="M45.70 489.80H49.10" stroke="#2e2e2e" stroke-width="1.2"/>
<text x="45.20" y="493.40" font-size="10" text-anchor="end" font-family='"Liberation Sans", sans-serif' fill="#111" stroke="#111" stroke-width="0.35">0</text>
<path d="M45.70 461.67H49.10" stroke="#2e2e2e" stroke-width="1.2"/>
<text x="45.20" y="465.27" font-size="10" text-anchor="end" font-family='"Liberation Sans", sans-serif' fill="#111" stroke="#111" stroke-width="0.35">500</text>
<path d="M45.70 433.54H49.10" stroke="#2e2e2e" stroke-width="1.2"/>
<text x="45.20" y="437.14" font-size="10" text-anchor="end" font-family='"Liberation Sans", sans-serif' fill="#111" stroke="#111" stroke-width="0.35">1000</text>
<path d="M45.70 405.41H49.10" stroke="#2e2e2e" stroke-width="1.2"/>
<text x="45.20" y="409.01" font-size="10" text-anchor="end" font-family='"Liberation Sans", sans-serif' fill="#111" stroke="#111" stroke-width="0.35">1500</text>
<path d="M45.70 377.28H49.10" stroke="#2e2e2e" stroke-width="1.2"/>
<text x="45.20" y="380.88" font-size="10" text-anchor="end" font-family='"Liberation Sans", sans-serif' fill="#111" stroke="#111" stroke-width="0.35">2000</text>
<path d="M45.70 349.15H49.10" stroke="#2e2e2e" stroke-width="1.2"/>
<text x="45.20" y="352.75" font-size="10" text-anchor="end" font-family='"Liberation Sans", sans-serif' fill="#111" stroke="#111" stroke-width="0.35">2500</text>
<path d="M45.70 321.02H49.10" stroke="#2e2e2e" stroke-width="1.2"/>
<text x="45.20" y="324.62" font-size="10" text-anchor="end" font-family='"Liberation Sans", sans-serif' fill="#111" stroke="#111" stroke-width="0.35">3000</text>
<path d="M45.70 292.89H49.10" stroke="#2e2e2e" stroke-width="1.2"/>
<text x="45.20" y="296.49" font-size="10" text-anchor="end" font-family='"Liberation Sans", sans-serif' fill="#111" stroke="#111" stroke-width="0.35">3500</text>
<path d="M49.10 503.80V507.20" stroke="#2e2e2e" stroke-width="1.2"/>
<path d="M67.50 503.80V507.20" stroke="#2e2e2e" stroke-width="1.2"/>
<path d="M86.03 503.80V507.20" stroke="#2e2e2e" stroke-width="1.2"/>
<path d="M104.56 503.80V507.20" stroke="#2e2e2e" stroke-width="1.2"/>
<path d="M123.09 503.80V507.20" stroke="#2e2e2e" stroke-width="1.2"/>
<path d="M141.62 503.80V507.20" stroke="#2e2e2e" stroke-width="1.2"/>
<path d="M160.15 503.80V507.20" stroke="#2e2e2e" stroke-width="1.2"/>
<path d="M178.68 503.80V507.20" stroke="#2e2e2e" stroke-width="1.2"/>
<path d="M197.21 503.80V507.20" stroke="#2e2e2e" stroke-width="1.2"/>
<path d="M215.74 503.80V507.20" stroke="#2e2e2e" stroke-width="1.2"/>
<path d="M234.27 503.80V507.20" stroke="#2e2e2e" stroke-width="1.2"/>
<path d="M253.80 503.80V507.20" stroke="#2e2e2e" stroke-width="1.2"/>
<text x="92.00" y="522.50" font-size="10.2" text-anchor="end" font-family='"Liberation Sans", sans-serif' fill="#111" stroke="#111" stroke-width="0.35">-14</text>
<text x="110.53" y="522.50" font-size="10.2" text-anchor="end" font-family='"Liberation Sans", sans-serif' fill="#111" stroke="#111" stroke-width="0.35">-13</text>
<text x="129.06" y="522.50" font-size="10.2" text-anchor="end" font-family='"Liberation Sans", sans-serif' fill="#111" stroke="#111" stroke-width="0.35">-12</text>
<text x="147.59" y="522.50" font-size="10.2" text-anchor="end" font-family='"Liberation Sans", sans-serif' fill="#111" stroke="#111" stroke-width="0.35">-11</text>
<text x="166.12" y="522.50" font-size="10.2" text-anchor="end" font-family='"Liberation Sans", sans-serif' fill="#111" stroke="#111" stroke-width="0.35">-10</text>
<text x="181.82" y="522.50" font-size="10.2" text-anchor="end" font-family='"Liberation Sans", sans-serif' fill="#111" stroke="#111" stroke-width="0.35">-9</text>
<text x="200.35" y="522.50" font-size="10.2" text-anchor="end" font-family='"Liberation Sans", sans-serif' fill="#111" stroke="#111" stroke-width="0.35">-8</text>
<text x="218.88" y="522.50" font-size="10.2" text-anchor="end" font-family='"Liberation Sans", sans-serif' fill="#111" stroke="#111" stroke-width="0.35">-7</text>
<text x="237.41" y="522.50" font-size="10.2" text-anchor="end" font-family='"Liberation Sans", sans-serif' fill="#111" stroke="#111" stroke-width="0.35">-6</text>
<path d="M104.56 422.85V442.54M99.96 422.85H109.16M99.96 442.54H109.16" stroke="#1c1c1c" stroke-width="1.25" fill="none"/>
<path d="M123.09 362.09V385.72M118.49 362.09H127.69M118.49 385.72H127.69" stroke="#1c1c1c" stroke-width="1.25" fill="none"/>
<path d="M141.62 332.22V386.28M137.02 332.22H146.22M137.02 386.28H146.22" stroke="#1c1c1c" stroke-width="1.25" fill="none"/>
<path d="M160.15 324.40V373.90M155.55 324.40H164.75M155.55 373.90H164.75" stroke="#1c1c1c" stroke-width="1.25" fill="none"/>
<path d="M178.68 320.12V363.22M174.08 320.12H183.28M174.08 363.22H183.28" stroke="#1c1c1c" stroke-width="1.25" fill="none"/>
<path d="M197.21 343.52V359.28M192.61 343.52H201.81M192.61 359.28H201.81" stroke="#1c1c1c" stroke-width="1.25" fill="none"/>
<path d="M215.74 328.90V355.90M211.14 328.90H220.34M211.14 355.90H220.34" stroke="#1c1c1c" stroke-width="1.25" fill="none"/>
<path d="M234.27 335.99V363.22M229.67 335.99H238.87M229.67 363.22H238.87" stroke="#1c1c1c" stroke-width="1.25" fill="none"/>
<path d="M67.50 489.80L86.03 483.05L104.56 431.85L123.09 374.07L141.62 358.60L160.15 348.98L178.68 341.72L197.21 351.63L215.74 343.19L234.27 348.42" fill="none" stroke="#000" stroke-width="1.3"/>
<rect x="63.50" y="485.80" width="8" height="8" fill="#000"/>
<rect x="82.03" y="479.05" width="8" height="8" fill="#000"/>
<rect x="100.56" y="427.85" width="8" height="8" fill="#000"/>
<rect x="119.09" y="370.07" width="8" height="8" fill="#000"/>
<rect x="137.62" y="354.60" width="8" height="8" fill="#000"/>
<rect x="156.15" y="344.98" width="8" height="8" fill="#000"/>
<rect x="174.68" y="337.72" width="8" height="8" fill="#000"/>
<rect x="193.21" y="347.63" width="8" height="8" fill="#000"/>
<rect x="211.74" y="339.19" width="8" height="8" fill="#000"/>
<rect x="230.27" y="344.42" width="8" height="8" fill="#000"/>
<path d="M215.74 391.57V411.15M211.14 391.57H220.34M211.14 411.15H220.34" stroke="#cf2229" stroke-width="1.25" fill="none"/>
<path d="M234.27 374.47V401.30M229.67 374.47H238.87M229.67 401.30H238.87" stroke="#cf2229" stroke-width="1.25" fill="none"/>
<path d="M67.50 489.80L86.03 489.80L104.56 489.80L123.09 489.80L141.62 489.80L160.15 489.80L178.68 488.11L197.21 476.97L215.74 402.32L234.27 387.18" fill="none" stroke="#cf2229" stroke-width="1.2"/>
<path d="M67.50 486.40L71.35 493.80L63.65 493.80Z" fill="#cf2229" stroke="#95181d" stroke-width="0.6" stroke-linejoin="miter"/>
<path d="M86.03 486.40L89.88 493.80L82.18 493.80Z" fill="#cf2229" stroke="#95181d" stroke-width="0.6" stroke-linejoin="miter"/>
<path d="M104.56 486.40L108.41 493.80L100.71 493.80Z" fill="#cf2229" stroke="#95181d" stroke-width="0.6" stroke-linejoin="miter"/>
<path d="M123.09 486.40L126.94 493.80L119.24 493.80Z" fill="#cf2229" stroke="#95181d" stroke-width="0.6" stroke-linejoin="miter"/>
<path d="M141.62 486.40L145.47 493.80L137.77 493.80Z" fill="#cf2229" stroke="#95181d" stroke-width="0.6" stroke-linejoin="miter"/>
<path d="M160.15 486.40L164.00 493.80L156.30 493.80Z" fill="#cf2229" stroke="#95181d" stroke-width="0.6" stroke-linejoin="miter"/>
<path d="M178.68 484.71L182.53 492.11L174.83 492.11Z" fill="#cf2229" stroke="#95181d" stroke-width="0.6" stroke-linejoin="miter"/>
<path d="M197.21 473.57L201.06 480.97L193.36 480.97Z" fill="#cf2229" stroke="#95181d" stroke-width="0.6" stroke-linejoin="miter"/>
<path d="M215.74 398.92L219.59 406.32L211.89 406.32Z" fill="#cf2229" stroke="#95181d" stroke-width="0.6" stroke-linejoin="miter"/>
<path d="M234.27 383.78L238.12 391.18L230.42 391.18Z" fill="#cf2229" stroke="#95181d" stroke-width="0.6" stroke-linejoin="miter"/>
<path d="M67.50 489.80L86.03 489.80L104.56 489.80L123.09 489.80L141.62 489.80L160.15 489.80L178.68 486.99L197.21 461.67L215.74 397.53L234.27 366.03" fill="none" stroke="#8565b0" stroke-width="1.2"/>
<path d="M67.50 486.40L71.35 493.80L63.65 493.80Z" fill="#8565b0" stroke="#5f487e" stroke-width="0.6" stroke-linejoin="miter"/>
<path d="M86.03 486.40L89.88 493.80L82.18 493.80Z" fill="#8565b0" stroke="#5f487e" stroke-width="0.6" stroke-linejoin="miter"/>
<path d="M104.56 486.40L108.41 493.80L100.71 493.80Z" fill="#8565b0" stroke="#5f487e" stroke-width="0.6" stroke-linejoin="miter"/>
<path d="M123.09 486.40L126.94 493.80L119.24 493.80Z" fill="#8565b0" stroke="#5f487e" stroke-width="0.6" stroke-linejoin="miter"/>
<path d="M141.62 486.40L145.47 493.80L137.77 493.80Z" fill="#8565b0" stroke="#5f487e" stroke-width="0.6" stroke-linejoin="miter"/>
<path d="M160.15 486.40L164.00 493.80L156.30 493.80Z" fill="#8565b0" stroke="#5f487e" stroke-width="0.6" stroke-linejoin="miter"/>
<path d="M178.68 483.59L182.53 490.99L174.83 490.99Z" fill="#8565b0" stroke="#5f487e" stroke-width="0.6" stroke-linejoin="miter"/>
<path d="M197.21 458.27L201.06 465.67L193.36 465.67Z" fill="#8565b0" stroke="#5f487e" stroke-width="0.6" stroke-linejoin="miter"/>
<path d="M215.74 394.13L219.59 401.53L211.89 401.53Z" fill="#8565b0" stroke="#5f487e" stroke-width="0.6" stroke-linejoin="miter"/>
<path d="M234.27 362.63L238.12 370.03L230.42 370.03Z" fill="#8565b0" stroke="#5f487e" stroke-width="0.6" stroke-linejoin="miter"/>
<path d="M197.21 449.29V467.30M192.61 449.29H201.81M192.61 467.30H201.81" stroke="#3a4c9e" stroke-width="1.25" fill="none"/>
<path d="M67.50 489.80L86.03 489.80L104.56 489.80L123.09 489.80L141.62 489.80L160.15 489.80L178.68 487.55L197.21 459.59L215.74 396.58L234.27 360.51" fill="none" stroke="#3a4c9e" stroke-width="1.2"/>
<path d="M67.50 486.40L71.35 493.80L63.65 493.80Z" fill="#3a4c9e" stroke="#293671" stroke-width="0.6" stroke-linejoin="miter"/>
<path d="M86.03 486.40L89.88 493.80L82.18 493.80Z" fill="#3a4c9e" stroke="#293671" stroke-width="0.6" stroke-linejoin="miter"/>
<path d="M104.56 486.40L108.41 493.80L100.71 493.80Z" fill="#3a4c9e" stroke="#293671" stroke-width="0.6" stroke-linejoin="miter"/>
<path d="M123.09 486.40L126.94 493.80L119.24 493.80Z" fill="#3a4c9e" stroke="#293671" stroke-width="0.6" stroke-linejoin="miter"/>
<path d="M141.62 486.40L145.47 493.80L137.77 493.80Z" fill="#3a4c9e" stroke="#293671" stroke-width="0.6" stroke-linejoin="miter"/>
<path d="M160.15 486.40L164.00 493.80L156.30 493.80Z" fill="#3a4c9e" stroke="#293671" stroke-width="0.6" stroke-linejoin="miter"/>
<path d="M178.68 484.15L182.53 491.55L174.83 491.55Z" fill="#3a4c9e" stroke="#293671" stroke-width="0.6" stroke-linejoin="miter"/>
<path d="M197.21 456.19L201.06 463.59L193.36 463.59Z" fill="#3a4c9e" stroke="#293671" stroke-width="0.6" stroke-linejoin="miter"/>
<path d="M215.74 393.18L219.59 400.58L211.89 400.58Z" fill="#3a4c9e" stroke="#293671" stroke-width="0.6" stroke-linejoin="miter"/>
<path d="M234.27 357.11L238.12 364.51L230.42 364.51Z" fill="#3a4c9e" stroke="#293671" stroke-width="0.6" stroke-linejoin="miter"/>
<path d="M215.74 358.15V374.47M211.14 358.15H220.34M211.14 374.47H220.34" stroke="#96c8e0" stroke-width="1.25" fill="none"/>
<path d="M234.27 364.90V377.28M229.67 364.90H238.87M229.67 377.28H238.87" stroke="#96c8e0" stroke-width="1.25" fill="none"/>
<path d="M67.50 489.80L86.03 489.80L104.56 489.80L123.09 489.80L141.62 489.80L160.15 489.80L178.68 475.00L197.21 417.28L215.74 365.80L234.27 371.20" fill="none" stroke="#96c8e0" stroke-width="1.2"/>
<path d="M67.50 486.40L71.35 493.80L63.65 493.80Z" fill="#96c8e0" stroke="#6c90a1" stroke-width="0.6" stroke-linejoin="miter"/>
<path d="M86.03 486.40L89.88 493.80L82.18 493.80Z" fill="#96c8e0" stroke="#6c90a1" stroke-width="0.6" stroke-linejoin="miter"/>
<path d="M104.56 486.40L108.41 493.80L100.71 493.80Z" fill="#96c8e0" stroke="#6c90a1" stroke-width="0.6" stroke-linejoin="miter"/>
<path d="M123.09 486.40L126.94 493.80L119.24 493.80Z" fill="#96c8e0" stroke="#6c90a1" stroke-width="0.6" stroke-linejoin="miter"/>
<path d="M141.62 486.40L145.47 493.80L137.77 493.80Z" fill="#96c8e0" stroke="#6c90a1" stroke-width="0.6" stroke-linejoin="miter"/>
<path d="M160.15 486.40L164.00 493.80L156.30 493.80Z" fill="#96c8e0" stroke="#6c90a1" stroke-width="0.6" stroke-linejoin="miter"/>
<path d="M178.68 471.60L182.53 479.00L174.83 479.00Z" fill="#96c8e0" stroke="#6c90a1" stroke-width="0.6" stroke-linejoin="miter"/>
<path d="M197.21 413.88L201.06 421.28L193.36 421.28Z" fill="#96c8e0" stroke="#6c90a1" stroke-width="0.6" stroke-linejoin="miter"/>
<path d="M215.74 362.40L219.59 369.80L211.89 369.80Z" fill="#96c8e0" stroke="#6c90a1" stroke-width="0.6" stroke-linejoin="miter"/>
<path d="M234.27 367.80L238.12 375.20L230.42 375.20Z" fill="#96c8e0" stroke="#6c90a1" stroke-width="0.6" stroke-linejoin="miter"/>
<path d="M215.74 442.26V453.23M211.14 442.26H220.34M211.14 453.23H220.34" stroke="#7bb444" stroke-width="1.25" fill="none"/>
<path d="M67.50 489.80L86.03 489.80L104.56 489.80L123.09 488.67L141.62 489.80L160.15 489.80L178.68 489.80L197.21 486.48L215.74 448.00L234.27 379.19" fill="none" stroke="#7bb444" stroke-width="1.2"/>
<path d="M67.50 486.40L71.35 493.80L63.65 493.80Z" fill="#7bb444" stroke="#588130" stroke-width="0.6" stroke-linejoin="miter"/>
<path d="M86.03 486.40L89.88 493.80L82.18 493.80Z" fill="#7bb444" stroke="#588130" stroke-width="0.6" stroke-linejoin="miter"/>
<path d="M104.56 486.40L108.41 493.80L100.71 493.80Z" fill="#7bb444" stroke="#588130" stroke-width="0.6" stroke-linejoin="miter"/>
<path d="M123.09 485.27L126.94 492.67L119.24 492.67Z" fill="#7bb444" stroke="#588130" stroke-width="0.6" stroke-linejoin="miter"/>
<path d="M141.62 486.40L145.47 493.80L137.77 493.80Z" fill="#7bb444" stroke="#588130" stroke-width="0.6" stroke-linejoin="miter"/>
<path d="M160.15 486.40L164.00 493.80L156.30 493.80Z" fill="#7bb444" stroke="#588130" stroke-width="0.6" stroke-linejoin="miter"/>
<path d="M178.68 486.40L182.53 493.80L174.83 493.80Z" fill="#7bb444" stroke="#588130" stroke-width="0.6" stroke-linejoin="miter"/>
<path d="M197.21 483.08L201.06 490.48L193.36 490.48Z" fill="#7bb444" stroke="#588130" stroke-width="0.6" stroke-linejoin="miter"/>
<path d="M215.74 444.60L219.59 452.00L211.89 452.00Z" fill="#7bb444" stroke="#588130" stroke-width="0.6" stroke-linejoin="miter"/>
<path d="M234.27 375.79L238.12 383.19L230.42 383.19Z" fill="#7bb444" stroke="#588130" stroke-width="0.6" stroke-linejoin="miter"/>
<rect x="53.00" y="293.40" width="8" height="8" fill="#000"/>
<text x="68.90" y="300.10" font-size="8.5" font-family='"Liberation Mono", monospace' fill="#3a3a3a" xml:space="preserve">LPELPLPQGQLTAY (Index)</text>
<path d="M57.00 304.40L60.85 311.80L53.15 311.80Z" fill="#cf2229" stroke="#95181d" stroke-width="0.6" stroke-linejoin="miter"/>
<text x="68.90" y="310.10" font-size="8.5" font-family='"Liberation Mono", monospace' fill="#3a3a3a" xml:space="preserve">EPWCCWCNL</text>
<path d="M57.00 316.13L60.85 323.53L53.15 323.53Z" fill="#8565b0" stroke="#5f487e" stroke-width="0.6" stroke-linejoin="miter"/>
<text x="68.90" y="321.83" font-size="8.5" font-family='"Liberation Mono", monospace' fill="#3a3a3a" xml:space="preserve">EPWCCCQNL</text>
<path d="M57.00 327.86L60.85 335.26L53.15 335.26Z" fill="#3a4c9e" stroke="#293671" stroke-width="0.6" stroke-linejoin="miter"/>
<text x="68.90" y="333.56" font-size="8.5" font-family='"Liberation Mono", monospace' fill="#3a3a3a" xml:space="preserve">EPWCCCCQL</text>
<path d="M57.00 339.59L60.85 346.99L53.15 346.99Z" fill="#96c8e0" stroke="#6c90a1" stroke-width="0.6" stroke-linejoin="miter"/>
<text x="68.90" y="345.29" font-size="8.5" font-family='"Liberation Mono", monospace' fill="#3a3a3a" xml:space="preserve">EPWCCCCNY</text>
<path d="M57.00 351.32L60.85 358.72L53.15 358.72Z" fill="#7bb444" stroke="#588130" stroke-width="0.6" stroke-linejoin="miter"/>
<text x="68.90" y="357.02" font-size="8.5" font-family='"Liberation Mono", monospace' fill="#3a3a3a" xml:space="preserve">LPWCCCVNM</text>
<path d="M313.50 292.52V503.50H518.80" fill="none" stroke="#2e2e2e" stroke-width="1.3"/>
<path d="M310.10 487.10H313.50" stroke="#2e2e2e" stroke-width="1.2"/>
<text x="309.60" y="490.70" font-size="10" text-anchor="end" font-family='"Liberation Sans", sans-serif' fill="#111" stroke="#111" stroke-width="0.35">0</text>
<path d="M310.10 454.67H313.50" stroke="#2e2e2e" stroke-width="1.2"/>
<text x="309.60" y="458.27" font-size="10" text-anchor="end" font-family='"Liberation Sans", sans-serif' fill="#111" stroke="#111" stroke-width="0.35">500</text>
<path d="M310.10 422.24H313.50" stroke="#2e2e2e" stroke-width="1.2"/>
<text x="309.60" y="425.84" font-size="10" text-anchor="end" font-family='"Liberation Sans", sans-serif' fill="#111" stroke="#111" stroke-width="0.35">1000</text>
<path d="M310.10 389.81H313.50" stroke="#2e2e2e" stroke-width="1.2"/>
<text x="309.60" y="393.41" font-size="10" text-anchor="end" font-family='"Liberation Sans", sans-serif' fill="#111" stroke="#111" stroke-width="0.35">1500</text>
<path d="M310.10 357.38H313.50" stroke="#2e2e2e" stroke-width="1.2"/>
<text x="309.60" y="360.98" font-size="10" text-anchor="end" font-family='"Liberation Sans", sans-serif' fill="#111" stroke="#111" stroke-width="0.35">2000</text>
<path d="M310.10 324.95H313.50" stroke="#2e2e2e" stroke-width="1.2"/>
<text x="309.60" y="328.55" font-size="10" text-anchor="end" font-family='"Liberation Sans", sans-serif' fill="#111" stroke="#111" stroke-width="0.35">2500</text>
<path d="M310.10 292.52H313.50" stroke="#2e2e2e" stroke-width="1.2"/>
<text x="309.60" y="296.12" font-size="10" text-anchor="end" font-family='"Liberation Sans", sans-serif' fill="#111" stroke="#111" stroke-width="0.35">3000</text>
<path d="M313.50 503.50V506.90" stroke="#2e2e2e" stroke-width="1.2"/>
<path d="M335.70 503.50V506.90" stroke="#2e2e2e" stroke-width="1.2"/>
<path d="M358.42 503.50V506.90" stroke="#2e2e2e" stroke-width="1.2"/>
<path d="M381.14 503.50V506.90" stroke="#2e2e2e" stroke-width="1.2"/>
<path d="M403.86 503.50V506.90" stroke="#2e2e2e" stroke-width="1.2"/>
<path d="M426.58 503.50V506.90" stroke="#2e2e2e" stroke-width="1.2"/>
<path d="M449.30 503.50V506.90" stroke="#2e2e2e" stroke-width="1.2"/>
<path d="M472.02 503.50V506.90" stroke="#2e2e2e" stroke-width="1.2"/>
<path d="M494.74 503.50V506.90" stroke="#2e2e2e" stroke-width="1.2"/>
<path d="M518.80 503.50V506.90" stroke="#2e2e2e" stroke-width="1.2"/>
<text x="364.39" y="522.50" font-size="10.2" text-anchor="end" font-family='"Liberation Sans", sans-serif' fill="#111" stroke="#111" stroke-width="0.35">-15</text>
<text x="387.11" y="522.50" font-size="10.2" text-anchor="end" font-family='"Liberation Sans", sans-serif' fill="#111" stroke="#111" stroke-width="0.35">-14</text>
<text x="409.83" y="522.50" font-size="10.2" text-anchor="end" font-family='"Liberation Sans", sans-serif' fill="#111" stroke="#111" stroke-width="0.35">-13</text>
<text x="432.55" y="522.50" font-size="10.2" text-anchor="end" font-family='"Liberation Sans", sans-serif' fill="#111" stroke="#111" stroke-width="0.35">-12</text>
<text x="455.27" y="522.50" font-size="10.2" text-anchor="end" font-family='"Liberation Sans", sans-serif' fill="#111" stroke="#111" stroke-width="0.35">-11</text>
<text x="477.99" y="522.50" font-size="10.2" text-anchor="end" font-family='"Liberation Sans", sans-serif' fill="#111" stroke="#111" stroke-width="0.35">-10</text>
<text x="497.88" y="522.50" font-size="10.2" text-anchor="end" font-family='"Liberation Sans", sans-serif' fill="#111" stroke="#111" stroke-width="0.35">-9</text>
<path d="M335.70 481.26V501.37M331.10 481.26H340.30M331.10 501.37H340.30" stroke="#1c1c1c" stroke-width="1.25" fill="none"/>
<path d="M381.14 475.43V487.10M376.54 475.43H385.74M376.54 487.10H385.74" stroke="#1c1c1c" stroke-width="1.25" fill="none"/>
<path d="M426.58 380.08V428.73M421.98 380.08H431.18M421.98 428.73H431.18" stroke="#1c1c1c" stroke-width="1.25" fill="none"/>
<path d="M449.30 360.62V380.60M444.70 360.62H453.90M444.70 380.60H453.90" stroke="#1c1c1c" stroke-width="1.25" fill="none"/>
<path d="M472.02 357.38V376.84M467.42 357.38H476.62M467.42 376.84H476.62" stroke="#1c1c1c" stroke-width="1.25" fill="none"/>
<path d="M494.74 347.65V368.08M490.14 347.65H499.34M490.14 368.08H499.34" stroke="#1c1c1c" stroke-width="1.25" fill="none"/>
<path d="M335.70 488.40L358.42 482.43L381.14 480.61L403.86 439.82L426.58 409.40L449.30 380.60L472.02 360.10L494.74 353.94" fill="none" stroke="#000" stroke-width="1.2"/>
<rect x="331.70" y="484.40" width="8" height="8" fill="#000"/>
<rect x="354.42" y="478.43" width="8" height="8" fill="#000"/>
<rect x="377.14" y="476.61" width="8" height="8" fill="#000"/>
<rect x="399.86" y="435.82" width="8" height="8" fill="#000"/>
<rect x="422.58" y="405.40" width="8" height="8" fill="#000"/>
<rect x="445.30" y="376.60" width="8" height="8" fill="#000"/>
<rect x="468.02" y="356.10" width="8" height="8" fill="#000"/>
<rect x="490.74" y="349.94" width="8" height="8" fill="#000"/>
<path d="M335.70 490.99L358.42 489.69L381.14 488.40L403.86 448.18L426.58 412.51L449.30 389.81L472.02 350.89L494.74 358.29" fill="none" stroke="#cf2229" stroke-width="1.2"/>
<path d="M335.70 487.59L339.55 494.99L331.85 494.99Z" fill="#cf2229" stroke="#95181d" stroke-width="0.6" stroke-linejoin="miter"/>
<path d="M358.42 486.29L362.27 493.69L354.57 493.69Z" fill="#cf2229" stroke="#95181d" stroke-width="0.6" stroke-linejoin="miter"/>
<path d="M381.14 485.00L384.99 492.40L377.29 492.40Z" fill="#cf2229" stroke="#95181d" stroke-width="0.6" stroke-linejoin="miter"/>
<path d="M403.86 444.78L407.71 452.18L400.01 452.18Z" fill="#cf2229" stroke="#95181d" stroke-width="0.6" stroke-linejoin="miter"/>
<path d="M426.58 409.11L430.43 416.51L422.73 416.51Z" fill="#cf2229" stroke="#95181d" stroke-width="0.6" stroke-linejoin="miter"/>
<path d="M449.30 386.41L453.15 393.81L445.45 393.81Z" fill="#cf2229" stroke="#95181d" stroke-width="0.6" stroke-linejoin="miter"/>
<path d="M472.02 347.49L475.87 354.89L468.17 354.89Z" fill="#cf2229" stroke="#95181d" stroke-width="0.6" stroke-linejoin="miter"/>
<path d="M494.74 354.89L498.59 362.29L490.89 362.29Z" fill="#cf2229" stroke="#95181d" stroke-width="0.6" stroke-linejoin="miter"/>
<path d="M335.70 489.69L358.42 488.40L381.14 494.23L403.86 444.94L426.58 412.51L449.30 407.32L472.02 359.97L494.74 354.14" fill="none" stroke="#8565b0" stroke-width="1.2"/>
<path d="M335.70 486.29L339.55 493.69L331.85 493.69Z" fill="#8565b0" stroke="#5f487e" stroke-width="0.6" stroke-linejoin="miter"/>
<path d="M358.42 485.00L362.27 492.40L354.57 492.40Z" fill="#8565b0" stroke="#5f487e" stroke-width="0.6" stroke-linejoin="miter"/>
<path d="M381.14 490.83L384.99 498.23L377.29 498.23Z" fill="#8565b0" stroke="#5f487e" stroke-width="0.6" stroke-linejoin="miter"/>
<path d="M403.86 441.54L407.71 448.94L400.01 448.94Z" fill="#8565b0" stroke="#5f487e" stroke-width="0.6" stroke-linejoin="miter"/>
<path d="M426.58 409.11L430.43 416.51L422.73 416.51Z" fill="#8565b0" stroke="#5f487e" stroke-width="0.6" stroke-linejoin="miter"/>
<path d="M449.30 403.92L453.15 411.32L445.45 411.32Z" fill="#8565b0" stroke="#5f487e" stroke-width="0.6" stroke-linejoin="miter"/>
<path d="M472.02 356.57L475.87 363.97L468.17 363.97Z" fill="#8565b0" stroke="#5f487e" stroke-width="0.6" stroke-linejoin="miter"/>
<path d="M494.74 350.74L498.59 358.14L490.89 358.14Z" fill="#8565b0" stroke="#5f487e" stroke-width="0.6" stroke-linejoin="miter"/>
<path d="M335.70 489.05L358.42 487.75L381.14 494.56L403.86 450.78L426.58 419.00L449.30 402.78L472.02 357.38L494.74 331.44" fill="none" stroke="#3a4c9e" stroke-width="1.2"/>
<path d="M335.70 485.65L339.55 493.05L331.85 493.05Z" fill="#3a4c9e" stroke="#293671" stroke-width="0.6" stroke-linejoin="miter"/>
<path d="M358.42 484.35L362.27 491.75L354.57 491.75Z" fill="#3a4c9e" stroke="#293671" stroke-width="0.6" stroke-linejoin="miter"/>
<path d="M381.14 491.16L384.99 498.56L377.29 498.56Z" fill="#3a4c9e" stroke="#293671" stroke-width="0.6" stroke-linejoin="miter"/>
<path d="M403.86 447.38L407.71 454.78L400.01 454.78Z" fill="#3a4c9e" stroke="#293671" stroke-width="0.6" stroke-linejoin="miter"/>
<path d="M426.58 415.60L430.43 423.00L422.73 423.00Z" fill="#3a4c9e" stroke="#293671" stroke-width="0.6" stroke-linejoin="miter"/>
<path d="M449.30 399.38L453.15 406.78L445.45 406.78Z" fill="#3a4c9e" stroke="#293671" stroke-width="0.6" stroke-linejoin="miter"/>
<path d="M472.02 353.98L475.87 361.38L468.17 361.38Z" fill="#3a4c9e" stroke="#293671" stroke-width="0.6" stroke-linejoin="miter"/>
<path d="M494.74 328.04L498.59 335.44L490.89 335.44Z" fill="#3a4c9e" stroke="#293671" stroke-width="0.6" stroke-linejoin="miter"/>
<path d="M335.70 490.99L358.42 489.05L381.14 491.96L403.86 467.64L426.58 409.27L449.30 386.57L472.02 344.41L494.74 334.68" fill="none" stroke="#96c8e0" stroke-width="1.2"/>
<path d="M335.70 487.59L339.55 494.99L331.85 494.99Z" fill="#96c8e0" stroke="#6c90a1" stroke-width="0.6" stroke-linejoin="miter"/>
<path d="M358.42 485.65L362.27 493.05L354.57 493.05Z" fill="#96c8e0" stroke="#6c90a1" stroke-width="0.6" stroke-linejoin="miter"/>
<path d="M381.14 488.56L384.99 495.96L377.29 495.96Z" fill="#96c8e0" stroke="#6c90a1" stroke-width="0.6" stroke-linejoin="miter"/>
<path d="M403.86 464.24L407.71 471.64L400.01 471.64Z" fill="#96c8e0" stroke="#6c90a1" stroke-width="0.6" stroke-linejoin="miter"/>
<path d="M426.58 405.87L430.43 413.27L422.73 413.27Z" fill="#96c8e0" stroke="#6c90a1" stroke-width="0.6" stroke-linejoin="miter"/>
<path d="M449.30 383.17L453.15 390.57L445.45 390.57Z" fill="#96c8e0" stroke="#6c90a1" stroke-width="0.6" stroke-linejoin="miter"/>
<path d="M472.02 341.01L475.87 348.41L468.17 348.41Z" fill="#96c8e0" stroke="#6c90a1" stroke-width="0.6" stroke-linejoin="miter"/>
<path d="M494.74 331.28L498.59 338.68L490.89 338.68Z" fill="#96c8e0" stroke="#6c90a1" stroke-width="0.6" stroke-linejoin="miter"/>
<path d="M335.70 485.80L358.42 487.10L381.14 487.10L403.86 470.89L426.58 420.94L449.30 398.24L472.02 352.84L494.74 347.65" fill="none" stroke="#7bb444" stroke-width="1.2"/>
<path d="M335.70 482.40L339.55 489.80L331.85 489.80Z" fill="#7bb444" stroke="#588130" stroke-width="0.6" stroke-linejoin="miter"/>
<path d="M358.42 483.70L362.27 491.10L354.57 491.10Z" fill="#7bb444" stroke="#588130" stroke-width="0.6" stroke-linejoin="miter"/>
<path d="M381.14 483.70L384.99 491.10L377.29 491.10Z" fill="#7bb444" stroke="#588130" stroke-width="0.6" stroke-linejoin="miter"/>
<path d="M403.86 467.49L407.71 474.89L400.01 474.89Z" fill="#7bb444" stroke="#588130" stroke-width="0.6" stroke-linejoin="miter"/>
<path d="M426.58 417.54L430.43 424.94L422.73 424.94Z" fill="#7bb444" stroke="#588130" stroke-width="0.6" stroke-linejoin="miter"/>
<path d="M449.30 394.84L453.15 402.24L445.45 402.24Z" fill="#7bb444" stroke="#588130" stroke-width="0.6" stroke-linejoin="miter"/>
<path d="M472.02 349.44L475.87 356.84L468.17 356.84Z" fill="#7bb444" stroke="#588130" stroke-width="0.6" stroke-linejoin="miter"/>
<path d="M494.74 344.25L498.59 351.65L490.89 351.65Z" fill="#7bb444" stroke="#588130" stroke-width="0.6" stroke-linejoin="miter"/>
<path d="M335.70 493.59L358.42 492.29L381.14 487.10L403.86 466.34L426.58 415.30L449.30 392.21L472.02 351.22L494.74 346.35" fill="none" stroke="#ec8a2f" stroke-width="1.2"/>
<path d="M335.70 490.19L339.55 497.59L331.85 497.59Z" fill="#ec8a2f" stroke="#a96321" stroke-width="0.6" stroke-linejoin="miter"/>
<path d="M358.42 488.89L362.27 496.29L354.57 496.29Z" fill="#ec8a2f" stroke="#a96321" stroke-width="0.6" stroke-linejoin="miter"/>
<path d="M381.14 483.70L384.99 491.10L377.29 491.10Z" fill="#ec8a2f" stroke="#a96321" stroke-width="0.6" stroke-linejoin="miter"/>
<path d="M403.86 462.94L407.71 470.34L400.01 470.34Z" fill="#ec8a2f" stroke="#a96321" stroke-width="0.6" stroke-linejoin="miter"/>
<path d="M426.58 411.90L430.43 419.30L422.73 419.30Z" fill="#ec8a2f" stroke="#a96321" stroke-width="0.6" stroke-linejoin="miter"/>
<path d="M449.30 388.81L453.15 396.21L445.45 396.21Z" fill="#ec8a2f" stroke="#a96321" stroke-width="0.6" stroke-linejoin="miter"/>
<path d="M472.02 347.82L475.87 355.22L468.17 355.22Z" fill="#ec8a2f" stroke="#a96321" stroke-width="0.6" stroke-linejoin="miter"/>
<path d="M494.74 342.95L498.59 350.35L490.89 350.35Z" fill="#ec8a2f" stroke="#a96321" stroke-width="0.6" stroke-linejoin="miter"/>
<path d="M335.70 490.34L358.42 489.05L381.14 487.10L403.86 451.62L426.58 412.51L449.30 389.81L472.02 347.65L494.74 326.25" fill="none" stroke="#c3242b" stroke-width="1.2"/>
<path d="M335.70 485.84L340.80 495.44L330.60 495.44Z" fill="#c3242b"/><path d="M335.70 489.36L338.06 493.79L333.34 493.79Z" fill="#fff"/>
<path d="M358.42 484.55L363.52 494.15L353.32 494.15Z" fill="#c3242b"/><path d="M358.42 488.06L360.78 492.50L356.06 492.50Z" fill="#fff"/>
<path d="M381.14 482.60L386.24 492.20L376.04 492.20Z" fill="#c3242b"/><path d="M381.14 486.12L383.50 490.55L378.78 490.55Z" fill="#fff"/>
<path d="M403.86 447.12L408.96 456.72L398.76 456.72Z" fill="#c3242b"/><path d="M403.86 450.64L406.22 455.07L401.50 455.07Z" fill="#fff"/>
<path d="M426.58 408.01L431.68 417.61L421.48 417.61Z" fill="#c3242b"/><path d="M426.58 411.53L428.94 415.96L424.22 415.96Z" fill="#fff"/>
<path d="M449.30 385.31L454.40 394.91L444.20 394.91Z" fill="#c3242b"/><path d="M449.30 388.83L451.66 393.26L446.94 393.26Z" fill="#fff"/>
<path d="M472.02 343.15L477.12 352.75L466.92 352.75Z" fill="#c3242b"/><path d="M472.02 346.67L474.38 351.10L469.66 351.10Z" fill="#fff"/>
<path d="M494.74 321.75L499.84 331.35L489.64 331.35Z" fill="#c3242b"/><path d="M494.74 325.26L497.10 329.70L492.38 329.70Z" fill="#fff"/>
<path d="M335.70 489.69L358.42 488.40L381.14 488.40L403.86 442.67L426.58 409.27L449.30 383.32L472.02 344.41L494.74 325.60" fill="none" stroke="#6d4c9e" stroke-width="1.2"/>
<path d="M335.70 485.19L340.80 494.79L330.60 494.79Z" fill="#6d4c9e"/><path d="M335.70 488.71L338.06 493.14L333.34 493.14Z" fill="#fff"/>
<path d="M358.42 483.90L363.52 493.50L353.32 493.50Z" fill="#6d4c9e"/><path d="M358.42 487.41L360.78 491.85L356.06 491.85Z" fill="#fff"/>
<path d="M381.14 483.90L386.24 493.50L376.04 493.50Z" fill="#6d4c9e"/><path d="M381.14 487.41L383.50 491.85L378.78 491.85Z" fill="#fff"/>
<path d="M403.86 438.17L408.96 447.77L398.76 447.77Z" fill="#6d4c9e"/><path d="M403.86 441.69L406.22 446.12L401.50 446.12Z" fill="#fff"/>
<path d="M426.58 404.77L431.68 414.37L421.48 414.37Z" fill="#6d4c9e"/><path d="M426.58 408.28L428.94 412.72L424.22 412.72Z" fill="#fff"/>
<path d="M449.30 378.82L454.40 388.42L444.20 388.42Z" fill="#6d4c9e"/><path d="M449.30 382.34L451.66 386.77L446.94 386.77Z" fill="#fff"/>
<path d="M472.02 339.91L477.12 349.51L466.92 349.51Z" fill="#6d4c9e"/><path d="M472.02 343.42L474.38 347.86L469.66 347.86Z" fill="#fff"/>
<path d="M494.74 321.10L499.84 330.70L489.64 330.70Z" fill="#6d4c9e"/><path d="M494.74 324.62L497.10 329.05L492.38 329.05Z" fill="#fff"/>
<path d="M335.70 489.05L358.42 489.05L381.14 489.05L403.86 454.67L426.58 433.01L449.30 389.81L472.02 338.70L494.74 328.19" fill="none" stroke="#2d3c86" stroke-width="1.2"/>
<path d="M335.70 484.55L340.80 494.15L330.60 494.15Z" fill="#2d3c86"/><path d="M335.70 488.06L338.06 492.50L333.34 492.50Z" fill="#fff"/>
<path d="M358.42 484.55L363.52 494.15L353.32 494.15Z" fill="#2d3c86"/><path d="M358.42 488.06L360.78 492.50L356.06 492.50Z" fill="#fff"/>
<path d="M381.14 484.55L386.24 494.15L376.04 494.15Z" fill="#2d3c86"/><path d="M381.14 488.06L383.50 492.50L378.78 492.50Z" fill="#fff"/>
<path d="M403.86 450.17L408.96 459.77L398.76 459.77Z" fill="#2d3c86"/><path d="M403.86 453.69L406.22 458.12L401.50 458.12Z" fill="#fff"/>
<path d="M426.58 428.51L431.68 438.11L421.48 438.11Z" fill="#2d3c86"/><path d="M426.58 432.02L428.94 436.46L424.22 436.46Z" fill="#fff"/>
<path d="M449.30 385.31L454.40 394.91L444.20 394.91Z" fill="#2d3c86"/><path d="M449.30 388.83L451.66 393.26L446.94 393.26Z" fill="#fff"/>
<path d="M472.02 334.20L477.12 343.80L466.92 343.80Z" fill="#2d3c86"/><path d="M472.02 337.72L474.38 342.15L469.66 342.15Z" fill="#fff"/>
<path d="M494.74 323.69L499.84 333.29L489.64 333.29Z" fill="#2d3c86"/><path d="M494.74 327.21L497.10 331.64L492.38 331.64Z" fill="#fff"/>
<path d="M335.70 489.69L358.42 488.40L381.14 490.34L403.86 481.91L426.58 402.13L449.30 378.14L472.02 325.60L494.74 332.41" fill="none" stroke="#9cd0e4" stroke-width="1.2"/>
<path d="M335.70 485.19L340.80 494.79L330.60 494.79Z" fill="#9cd0e4"/><path d="M335.70 488.71L338.06 493.14L333.34 493.14Z" fill="#fff"/>
<path d="M358.42 483.90L363.52 493.50L353.32 493.50Z" fill="#9cd0e4"/><path d="M358.42 487.41L360.78 491.85L356.06 491.85Z" fill="#fff"/>
<path d="M381.14 485.84L386.24 495.44L376.04 495.44Z" fill="#9cd0e4"/><path d="M381.14 489.36L383.50 493.79L378.78 493.79Z" fill="#fff"/>
<path d="M403.86 477.41L408.96 487.01L398.76 487.01Z" fill="#9cd0e4"/><path d="M403.86 480.93L406.22 485.36L401.50 485.36Z" fill="#fff"/>
<path d="M426.58 397.63L431.68 407.23L421.48 407.23Z" fill="#9cd0e4"/><path d="M426.58 401.15L428.94 405.58L424.22 405.58Z" fill="#fff"/>
<path d="M449.30 373.64L454.40 383.24L444.20 383.24Z" fill="#9cd0e4"/><path d="M449.30 377.15L451.66 381.59L446.94 381.59Z" fill="#fff"/>
<path d="M472.02 321.10L477.12 330.70L466.92 330.70Z" fill="#9cd0e4"/><path d="M472.02 324.62L474.38 329.05L469.66 329.05Z" fill="#fff"/>
<path d="M494.74 327.91L499.84 337.51L489.64 337.51Z" fill="#9cd0e4"/><path d="M494.74 331.43L497.10 335.86L492.38 335.86Z" fill="#fff"/>
<path d="M335.70 485.80L358.42 486.45L381.14 487.10L403.86 476.01L426.58 421.20L449.30 398.37L472.02 350.89L494.74 347.65" fill="none" stroke="#86b84e" stroke-width="1.2"/>
<path d="M335.70 481.30L340.80 490.90L330.60 490.90Z" fill="#86b84e"/><path d="M335.70 484.82L338.06 489.25L333.34 489.25Z" fill="#fff"/>
<path d="M358.42 481.95L363.52 491.55L353.32 491.55Z" fill="#86b84e"/><path d="M358.42 485.47L360.78 489.90L356.06 489.90Z" fill="#fff"/>
<path d="M381.14 482.60L386.24 492.20L376.04 492.20Z" fill="#86b84e"/><path d="M381.14 486.12L383.50 490.55L378.78 490.55Z" fill="#fff"/>
<path d="M403.86 471.51L408.96 481.11L398.76 481.11Z" fill="#86b84e"/><path d="M403.86 475.03L406.22 479.46L401.50 479.46Z" fill="#fff"/>
<path d="M426.58 416.70L431.68 426.30L421.48 426.30Z" fill="#86b84e"/><path d="M426.58 420.22L428.94 424.65L424.22 424.65Z" fill="#fff"/>
<path d="M449.30 393.87L454.40 403.47L444.20 403.47Z" fill="#86b84e"/><path d="M449.30 397.39L451.66 401.82L446.94 401.82Z" fill="#fff"/>
<path d="M472.02 346.39L477.12 355.99L466.92 355.99Z" fill="#86b84e"/><path d="M472.02 349.91L474.38 354.34L469.66 354.34Z" fill="#fff"/>
<path d="M494.74 343.15L499.84 352.75L489.64 352.75Z" fill="#86b84e"/><path d="M494.74 346.67L497.10 351.10L492.38 351.10Z" fill="#fff"/>
<path d="M335.70 492.29L358.42 490.99L381.14 487.10L403.86 467.64L426.58 415.30L449.30 392.21L472.02 349.60L494.74 345.71" fill="none" stroke="#e88c3a" stroke-width="1.2"/>
<path d="M335.70 487.79L340.80 497.39L330.60 497.39Z" fill="#e88c3a"/><path d="M335.70 491.31L338.06 495.74L333.34 495.74Z" fill="#fff"/>
<path d="M358.42 486.49L363.52 496.09L353.32 496.09Z" fill="#e88c3a"/><path d="M358.42 490.01L360.78 494.44L356.06 494.44Z" fill="#fff"/>
<path d="M381.14 482.60L386.24 492.20L376.04 492.20Z" fill="#e88c3a"/><path d="M381.14 486.12L383.50 490.55L378.78 490.55Z" fill="#fff"/>
<path d="M403.86 463.14L408.96 472.74L398.76 472.74Z" fill="#e88c3a"/><path d="M403.86 466.66L406.22 471.09L401.50 471.09Z" fill="#fff"/>
<path d="M426.58 410.80L431.68 420.40L421.48 420.40Z" fill="#e88c3a"/><path d="M426.58 414.32L428.94 418.75L424.22 418.75Z" fill="#fff"/>
<path d="M449.30 387.71L454.40 397.31L444.20 397.31Z" fill="#e88c3a"/><path d="M449.30 391.23L451.66 395.66L446.94 395.66Z" fill="#fff"/>
<path d="M472.02 345.10L477.12 354.70L466.92 354.70Z" fill="#e88c3a"/><path d="M472.02 348.61L474.38 353.05L469.66 353.05Z" fill="#fff"/>
<path d="M494.74 341.21L499.84 350.81L489.64 350.81Z" fill="#e88c3a"/><path d="M494.74 344.72L497.10 349.16L492.38 349.16Z" fill="#fff"/>
<rect x="316.60" y="292.90" width="8" height="8" fill="#000"/>
<text x="332.90" y="299.60" font-size="8.5" font-family='"Liberation Mono", monospace' fill="#3a3a3a" xml:space="preserve">LPEPLPQGQLTAY (Index)</text>
<path d="M320.60 306.05L324.45 313.45L316.75 313.45Z" fill="#cf2229" stroke="#95181d" stroke-width="0.6" stroke-linejoin="miter"/>
<text x="332.90" y="311.75" font-size="8.5" font-family='"Liberation Mono", monospace' fill="#3a3a3a" xml:space="preserve">LPEPLPQ<tspan font-weight="bold" fill="#000" text-decoration="underline">AGD</tspan>TAY</text>
<path d="M320.60 317.73L324.45 325.13L316.75 325.13Z" fill="#8565b0" stroke="#5f487e" stroke-width="0.6" stroke-linejoin="miter"/>
<text x="332.90" y="323.43" font-size="8.5" font-family='"Liberation Mono", monospace' fill="#3a3a3a" xml:space="preserve">LPEPLPQ<tspan font-weight="bold" fill="#000" text-decoration="underline">TCD</tspan>TAY</text>
<path d="M320.60 329.41L324.45 336.81L316.75 336.81Z" fill="#3a4c9e" stroke="#293671" stroke-width="0.6" stroke-linejoin="miter"/>
<text x="332.90" y="335.11" font-size="8.5" font-family='"Liberation Mono", monospace' fill="#3a3a3a" xml:space="preserve"><tspan font-weight="bold" fill="#000" text-decoration="underline">HA</tspan>EPL<tspan font-weight="bold" fill="#000" text-decoration="underline">F</tspan>Q<tspan font-weight="bold" fill="#000" text-decoration="underline">AGDVEM</tspan></text>
<path d="M320.60 341.09L324.45 348.49L316.75 348.49Z" fill="#96c8e0" stroke="#6c90a1" stroke-width="0.6" stroke-linejoin="miter"/>
<text x="332.90" y="346.79" font-size="8.5" font-family='"Liberation Mono", monospace' fill="#3a3a3a" xml:space="preserve"><tspan font-weight="bold" fill="#000" text-decoration="underline">HA</tspan>EPL<tspan font-weight="bold" fill="#000" text-decoration="underline">F</tspan>Q<tspan font-weight="bold" fill="#000" text-decoration="underline">AGDDEM</tspan></text>
<path d="M320.60 352.77L324.45 360.17L316.75 360.17Z" fill="#7bb444" stroke="#588130" stroke-width="0.6" stroke-linejoin="miter"/>
<text x="332.90" y="358.47" font-size="8.5" font-family='"Liberation Mono", monospace' fill="#3a3a3a" xml:space="preserve"><tspan font-weight="bold" fill="#000" text-decoration="underline">HA</tspan>EPLPQ<tspan font-weight="bold" fill="#000" text-decoration="underline">AEDVEF</tspan></text>
<path d="M320.60 364.45L324.45 371.85L316.75 371.85Z" fill="#ec8a2f" stroke="#a96321" stroke-width="0.6" stroke-linejoin="miter"/>
<text x="332.90" y="370.15" font-size="8.5" font-family='"Liberation Mono", monospace' fill="#3a3a3a" xml:space="preserve"><tspan font-weight="bold" fill="#000" text-decoration="underline">HAM</tspan>PLPQ<tspan font-weight="bold" fill="#000" text-decoration="underline">ACDVEM</tspan></text>
<path d="M320.60 375.03L325.70 384.63L315.50 384.63Z" fill="#c3242b"/><path d="M320.60 378.55L322.96 382.98L318.24 382.98Z" fill="#fff"/>
<text x="332.90" y="381.83" font-size="8.5" font-family='"Liberation Mono", monospace' fill="#3a3a3a" xml:space="preserve"><tspan font-weight="bold" fill="#000" text-decoration="underline">HA</tspan>EPLPQ<tspan font-weight="bold" fill="#000" text-decoration="underline">WEDVEM</tspan></text>
<path d="M320.60 386.71L325.70 396.31L315.50 396.31Z" fill="#6d4c9e"/><path d="M320.60 390.23L322.96 394.66L318.24 394.66Z" fill="#fff"/>
<text x="332.90" y="393.51" font-size="8.5" font-family='"Liberation Mono", monospace' fill="#3a3a3a" xml:space="preserve"><tspan font-weight="bold" fill="#000" text-decoration="underline">H</tspan>P<tspan font-weight="bold" fill="#000" text-decoration="underline">M</tspan>PLPQ<tspan font-weight="bold" fill="#000" text-decoration="underline">TEDVEY</tspan></text>
<path d="M320.60 398.39L325.70 407.99L315.50 407.99Z" fill="#2d3c86"/><path d="M320.60 401.91L322.96 406.34L318.24 406.34Z" fill="#fff"/>
<text x="332.90" y="405.19" font-size="8.5" font-family='"Liberation Mono", monospace' fill="#3a3a3a" xml:space="preserve"><tspan font-weight="bold" fill="#000" text-decoration="underline">H</tspan>P<tspan font-weight="bold" fill="#000" text-decoration="underline">M</tspan>PLPQ<tspan font-weight="bold" fill="#000" text-decoration="underline">WEDVEY</tspan></text>
<path d="M320.60 410.07L325.70 419.67L315.50 419.67Z" fill="#9cd0e4"/><path d="M320.60 413.59L322.96 418.02L318.24 418.02Z" fill="#fff"/>
<text x="332.90" y="416.87" font-size="8.5" font-family='"Liberation Mono", monospace' fill="#3a3a3a" xml:space="preserve"><tspan font-weight="bold" fill="#000" text-decoration="underline">M</tspan>P<tspan font-weight="bold" fill="#000" text-decoration="underline">M</tspan>PLPQ<tspan font-weight="bold" fill="#000" text-decoration="underline">WEDVEY</tspan></text>
<path d="M320.60 421.75L325.70 431.35L315.50 431.35Z" fill="#86b84e"/><path d="M320.60 425.27L322.96 429.70L318.24 429.70Z" fill="#fff"/>
<text x="332.90" y="428.55" font-size="8.5" font-family='"Liberation Mono", monospace' fill="#3a3a3a" xml:space="preserve"><tspan font-weight="bold" fill="#000" text-decoration="underline">Y</tspan>P<tspan font-weight="bold" fill="#000" text-decoration="underline">M</tspan>PLPQ<tspan font-weight="bold" fill="#000" text-decoration="underline">TCEVEF</tspan></text>
<path d="M320.60 433.43L325.70 443.03L315.50 443.03Z" fill="#e88c3a"/><path d="M320.60 436.95L322.96 441.38L318.24 441.38Z" fill="#fff"/>
<text x="332.90" y="440.23" font-size="8.5" font-family='"Liberation Mono", monospace' fill="#3a3a3a" xml:space="preserve"><tspan font-weight="bold" fill="#000" text-decoration="underline">H</tspan>P<tspan font-weight="bold" fill="#000" text-decoration="underline">I</tspan>PLPQ<tspan font-weight="bold" fill="#000" text-decoration="underline">TNEHPM</tspan></text>
</svg></body></html>
